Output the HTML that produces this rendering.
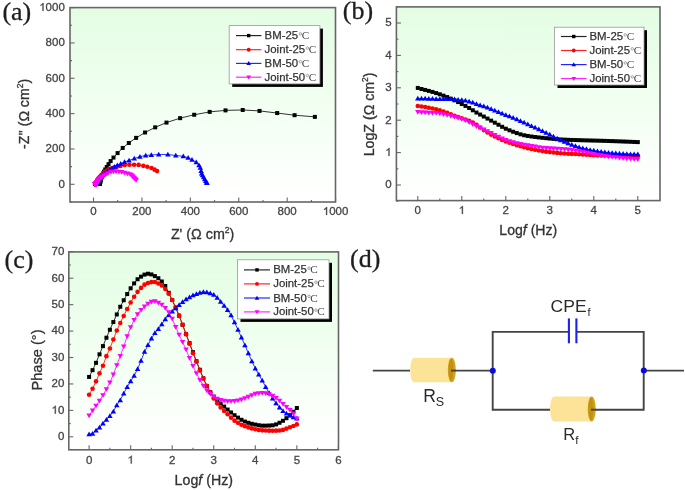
<!DOCTYPE html>
<html><head><meta charset="utf-8"><style>
html,body{margin:0;padding:0;background:#fff;}
svg{display:block;filter:blur(0.6px);}

</style></head><body>
<svg width="685" height="490" viewBox="0 0 685 490" font-family="Liberation Sans, sans-serif" fill="#454545">
<defs>
<linearGradient id="g" x1="0" y1="0" x2="0" y2="1">
<stop offset="0" stop-color="#e3fde3"/><stop offset="0.45" stop-color="#f0fff0"/><stop offset="0.88" stop-color="#fdfffd"/><stop offset="1" stop-color="#ffffff"/>
</linearGradient>
</defs>
<rect width="685" height="490" fill="#fff"/>
<rect x="70" y="7.6" width="265.5" height="194.4" fill="url(#g)"/>
<clipPath id="ca"><rect x="70" y="7.6" width="265.5" height="194.4"/></clipPath>
<g clip-path="url(#ca)">
<polyline points="314.88,116.88 294.59,115.20 277.19,113.05 259.51,110.92 242.72,109.97 225.53,110.39 209.66,111.89 194.20,114.77 180.13,118.16 166.48,122.59 155.22,127.35 145.06,132.48 136.11,137.87 128.82,142.97 122.70,147.95 117.58,153.11 113.50,157.57 110.62,161.09 108.51,164.18 106.76,166.99 105.24,169.46 104.03,171.63 103.03,173.56 102.29,175.31 101.70,176.71 101.26,177.81 100.92,178.73 100.66,179.53 100.41,180.24 100.25,180.79 100.20,181.24 100.17,181.65 100.13,182.01 100.09,182.34 100.04,182.64 99.95,182.87 99.84,183.04 99.73,183.18 99.62,183.30 99.54,183.41 99.48,183.51 99.43,183.60 99.39,183.68 99.36,183.75 99.32,183.82 99.28,183.87 99.25,183.91 99.21,183.94 99.17,183.96 99.14,183.99 99.10,184.00 99.06,184.00 99.01,184.00 98.96,184.00 98.91,183.98 98.86,183.94 98.80,183.89 98.73,183.83 98.67,183.76 98.59,183.68 98.51,183.60" fill="none" stroke="#000000" stroke-width="0.8"/>
<rect x="312.88" y="114.88" width="4.00" height="4.00" fill="#000000"/>
<rect x="292.59" y="113.20" width="4.00" height="4.00" fill="#000000"/>
<rect x="275.19" y="111.05" width="4.00" height="4.00" fill="#000000"/>
<rect x="257.51" y="108.92" width="4.00" height="4.00" fill="#000000"/>
<rect x="240.72" y="107.97" width="4.00" height="4.00" fill="#000000"/>
<rect x="223.53" y="108.39" width="4.00" height="4.00" fill="#000000"/>
<rect x="207.66" y="109.89" width="4.00" height="4.00" fill="#000000"/>
<rect x="192.20" y="112.77" width="4.00" height="4.00" fill="#000000"/>
<rect x="178.13" y="116.16" width="4.00" height="4.00" fill="#000000"/>
<rect x="164.48" y="120.59" width="4.00" height="4.00" fill="#000000"/>
<rect x="153.22" y="125.35" width="4.00" height="4.00" fill="#000000"/>
<rect x="143.06" y="130.48" width="4.00" height="4.00" fill="#000000"/>
<rect x="134.11" y="135.87" width="4.00" height="4.00" fill="#000000"/>
<rect x="126.82" y="140.97" width="4.00" height="4.00" fill="#000000"/>
<rect x="120.70" y="145.95" width="4.00" height="4.00" fill="#000000"/>
<rect x="115.58" y="151.11" width="4.00" height="4.00" fill="#000000"/>
<rect x="111.50" y="155.57" width="4.00" height="4.00" fill="#000000"/>
<rect x="108.62" y="159.09" width="4.00" height="4.00" fill="#000000"/>
<rect x="106.51" y="162.18" width="4.00" height="4.00" fill="#000000"/>
<rect x="104.76" y="164.99" width="4.00" height="4.00" fill="#000000"/>
<rect x="103.24" y="167.46" width="4.00" height="4.00" fill="#000000"/>
<rect x="102.03" y="169.63" width="4.00" height="4.00" fill="#000000"/>
<rect x="101.03" y="171.56" width="4.00" height="4.00" fill="#000000"/>
<rect x="100.29" y="173.31" width="4.00" height="4.00" fill="#000000"/>
<rect x="99.70" y="174.71" width="4.00" height="4.00" fill="#000000"/>
<rect x="99.26" y="175.81" width="4.00" height="4.00" fill="#000000"/>
<rect x="98.92" y="176.73" width="4.00" height="4.00" fill="#000000"/>
<rect x="98.66" y="177.53" width="4.00" height="4.00" fill="#000000"/>
<rect x="98.41" y="178.24" width="4.00" height="4.00" fill="#000000"/>
<rect x="98.25" y="178.79" width="4.00" height="4.00" fill="#000000"/>
<rect x="98.20" y="179.24" width="4.00" height="4.00" fill="#000000"/>
<rect x="98.17" y="179.65" width="4.00" height="4.00" fill="#000000"/>
<rect x="98.13" y="180.01" width="4.00" height="4.00" fill="#000000"/>
<rect x="98.09" y="180.34" width="4.00" height="4.00" fill="#000000"/>
<rect x="98.04" y="180.64" width="4.00" height="4.00" fill="#000000"/>
<rect x="97.95" y="180.87" width="4.00" height="4.00" fill="#000000"/>
<rect x="97.84" y="181.04" width="4.00" height="4.00" fill="#000000"/>
<rect x="97.73" y="181.18" width="4.00" height="4.00" fill="#000000"/>
<rect x="97.62" y="181.30" width="4.00" height="4.00" fill="#000000"/>
<rect x="97.54" y="181.41" width="4.00" height="4.00" fill="#000000"/>
<rect x="97.48" y="181.51" width="4.00" height="4.00" fill="#000000"/>
<rect x="97.43" y="181.60" width="4.00" height="4.00" fill="#000000"/>
<rect x="97.39" y="181.68" width="4.00" height="4.00" fill="#000000"/>
<rect x="97.36" y="181.75" width="4.00" height="4.00" fill="#000000"/>
<rect x="97.32" y="181.82" width="4.00" height="4.00" fill="#000000"/>
<rect x="97.28" y="181.87" width="4.00" height="4.00" fill="#000000"/>
<rect x="97.25" y="181.91" width="4.00" height="4.00" fill="#000000"/>
<rect x="97.21" y="181.94" width="4.00" height="4.00" fill="#000000"/>
<rect x="97.17" y="181.96" width="4.00" height="4.00" fill="#000000"/>
<rect x="97.14" y="181.99" width="4.00" height="4.00" fill="#000000"/>
<rect x="97.10" y="182.00" width="4.00" height="4.00" fill="#000000"/>
<rect x="97.06" y="182.00" width="4.00" height="4.00" fill="#000000"/>
<rect x="97.01" y="182.00" width="4.00" height="4.00" fill="#000000"/>
<rect x="96.96" y="182.00" width="4.00" height="4.00" fill="#000000"/>
<rect x="96.91" y="181.98" width="4.00" height="4.00" fill="#000000"/>
<rect x="96.86" y="181.94" width="4.00" height="4.00" fill="#000000"/>
<rect x="96.80" y="181.89" width="4.00" height="4.00" fill="#000000"/>
<rect x="96.73" y="181.83" width="4.00" height="4.00" fill="#000000"/>
<rect x="96.67" y="181.76" width="4.00" height="4.00" fill="#000000"/>
<rect x="96.59" y="181.68" width="4.00" height="4.00" fill="#000000"/>
<rect x="96.51" y="181.60" width="4.00" height="4.00" fill="#000000"/>
<polyline points="157.04,171.09 154.55,169.66 151.48,168.07 147.29,166.81 143.30,165.87 138.62,164.89 134.06,164.78 129.42,164.69 124.70,165.06 120.39,165.95 116.61,167.00 113.57,167.83 111.07,168.57 108.88,169.42 106.82,170.49 104.80,171.91 102.80,173.62 101.12,175.34 99.76,176.83 98.76,178.02 98.11,178.91 97.62,179.63 97.26,180.24 97.00,180.77 96.82,181.23 96.70,181.62 96.60,181.97 96.52,182.28 96.45,182.56 96.39,182.81 96.33,183.03 96.25,183.21 96.18,183.38 96.11,183.53 96.04,183.65 95.98,183.75 95.93,183.84 95.88,183.91 95.83,183.97 95.78,184.01 95.75,184.05 95.72,184.09 95.70,184.13 95.67,184.15 95.65,184.17 95.62,184.19 95.58,184.21 95.54,184.22 95.51,184.23 95.49,184.23 95.47,184.24 95.46,184.24 95.45,184.24 95.44,184.24 95.43,184.24 95.42,184.24 95.41,184.24 95.41,184.22 95.40,184.21 95.40,184.20 95.39,184.19" fill="none" stroke="#ff0000" stroke-width="0.8"/>
<circle cx="157.04" cy="171.09" r="2.30" fill="#ff0000"/>
<circle cx="154.55" cy="169.66" r="2.30" fill="#ff0000"/>
<circle cx="151.48" cy="168.07" r="2.30" fill="#ff0000"/>
<circle cx="147.29" cy="166.81" r="2.30" fill="#ff0000"/>
<circle cx="143.30" cy="165.87" r="2.30" fill="#ff0000"/>
<circle cx="138.62" cy="164.89" r="2.30" fill="#ff0000"/>
<circle cx="134.06" cy="164.78" r="2.30" fill="#ff0000"/>
<circle cx="129.42" cy="164.69" r="2.30" fill="#ff0000"/>
<circle cx="124.70" cy="165.06" r="2.30" fill="#ff0000"/>
<circle cx="120.39" cy="165.95" r="2.30" fill="#ff0000"/>
<circle cx="116.61" cy="167.00" r="2.30" fill="#ff0000"/>
<circle cx="113.57" cy="167.83" r="2.30" fill="#ff0000"/>
<circle cx="111.07" cy="168.57" r="2.30" fill="#ff0000"/>
<circle cx="108.88" cy="169.42" r="2.30" fill="#ff0000"/>
<circle cx="106.82" cy="170.49" r="2.30" fill="#ff0000"/>
<circle cx="104.80" cy="171.91" r="2.30" fill="#ff0000"/>
<circle cx="102.80" cy="173.62" r="2.30" fill="#ff0000"/>
<circle cx="101.12" cy="175.34" r="2.30" fill="#ff0000"/>
<circle cx="99.76" cy="176.83" r="2.30" fill="#ff0000"/>
<circle cx="98.76" cy="178.02" r="2.30" fill="#ff0000"/>
<circle cx="98.11" cy="178.91" r="2.30" fill="#ff0000"/>
<circle cx="97.62" cy="179.63" r="2.30" fill="#ff0000"/>
<circle cx="97.26" cy="180.24" r="2.30" fill="#ff0000"/>
<circle cx="97.00" cy="180.77" r="2.30" fill="#ff0000"/>
<circle cx="96.82" cy="181.23" r="2.30" fill="#ff0000"/>
<circle cx="96.70" cy="181.62" r="2.30" fill="#ff0000"/>
<circle cx="96.60" cy="181.97" r="2.30" fill="#ff0000"/>
<circle cx="96.52" cy="182.28" r="2.30" fill="#ff0000"/>
<circle cx="96.45" cy="182.56" r="2.30" fill="#ff0000"/>
<circle cx="96.39" cy="182.81" r="2.30" fill="#ff0000"/>
<circle cx="96.33" cy="183.03" r="2.30" fill="#ff0000"/>
<circle cx="96.25" cy="183.21" r="2.30" fill="#ff0000"/>
<circle cx="96.18" cy="183.38" r="2.30" fill="#ff0000"/>
<circle cx="96.11" cy="183.53" r="2.30" fill="#ff0000"/>
<circle cx="96.04" cy="183.65" r="2.30" fill="#ff0000"/>
<circle cx="95.98" cy="183.75" r="2.30" fill="#ff0000"/>
<circle cx="95.93" cy="183.84" r="2.30" fill="#ff0000"/>
<circle cx="95.88" cy="183.91" r="2.30" fill="#ff0000"/>
<circle cx="95.83" cy="183.97" r="2.30" fill="#ff0000"/>
<circle cx="95.78" cy="184.01" r="2.30" fill="#ff0000"/>
<circle cx="95.75" cy="184.05" r="2.30" fill="#ff0000"/>
<circle cx="95.72" cy="184.09" r="2.30" fill="#ff0000"/>
<circle cx="95.70" cy="184.13" r="2.30" fill="#ff0000"/>
<circle cx="95.67" cy="184.15" r="2.30" fill="#ff0000"/>
<circle cx="95.65" cy="184.17" r="2.30" fill="#ff0000"/>
<circle cx="95.62" cy="184.19" r="2.30" fill="#ff0000"/>
<circle cx="95.58" cy="184.21" r="2.30" fill="#ff0000"/>
<circle cx="95.54" cy="184.22" r="2.30" fill="#ff0000"/>
<circle cx="95.51" cy="184.23" r="2.30" fill="#ff0000"/>
<circle cx="95.49" cy="184.23" r="2.30" fill="#ff0000"/>
<circle cx="95.47" cy="184.24" r="2.30" fill="#ff0000"/>
<circle cx="95.46" cy="184.24" r="2.30" fill="#ff0000"/>
<circle cx="95.45" cy="184.24" r="2.30" fill="#ff0000"/>
<circle cx="95.44" cy="184.24" r="2.30" fill="#ff0000"/>
<circle cx="95.43" cy="184.24" r="2.30" fill="#ff0000"/>
<circle cx="95.42" cy="184.24" r="2.30" fill="#ff0000"/>
<circle cx="95.41" cy="184.24" r="2.30" fill="#ff0000"/>
<circle cx="95.41" cy="184.22" r="2.30" fill="#ff0000"/>
<circle cx="95.40" cy="184.21" r="2.30" fill="#ff0000"/>
<circle cx="95.40" cy="184.20" r="2.30" fill="#ff0000"/>
<circle cx="95.39" cy="184.19" r="2.30" fill="#ff0000"/>
<polyline points="206.98,182.93 206.56,182.62 205.77,180.91 204.70,179.35 203.65,177.26 202.52,175.27 201.66,173.43 201.12,171.04 200.27,167.78 198.99,165.29 196.23,162.23 191.99,159.77 188.14,157.78 183.28,156.34 175.77,155.47 167.85,154.52 158.69,154.40 151.34,155.07 145.69,155.41 139.93,156.63 134.29,158.58 129.06,160.45 124.52,162.05 120.70,163.70 117.39,165.32 114.52,166.85 112.00,168.30 109.70,169.70 107.65,171.08 105.86,172.40 104.28,173.66 102.95,174.79 101.81,175.79 100.83,176.72 100.02,177.58 99.32,178.40 98.66,179.17 98.12,179.89 97.67,180.53 97.29,181.05 96.99,181.47 96.76,181.83 96.60,182.17 96.45,182.46 96.33,182.71 96.22,182.93 96.14,183.11 96.07,183.27 96.01,183.41 95.95,183.52 95.89,183.62 95.85,183.72 95.81,183.80 95.77,183.87 95.75,183.93 95.72,183.98 95.70,184.02 95.67,184.06 95.65,184.08 95.64,184.10 95.63,184.11" fill="none" stroke="#0000ff" stroke-width="0.8"/>
<path d="M206.98,180.18L209.73,184.93L204.23,184.93Z" fill="#0000ff"/>
<path d="M206.56,179.87L209.31,184.62L203.81,184.62Z" fill="#0000ff"/>
<path d="M205.77,178.16L208.52,182.91L203.02,182.91Z" fill="#0000ff"/>
<path d="M204.70,176.60L207.45,181.35L201.95,181.35Z" fill="#0000ff"/>
<path d="M203.65,174.51L206.40,179.26L200.90,179.26Z" fill="#0000ff"/>
<path d="M202.52,172.52L205.27,177.27L199.77,177.27Z" fill="#0000ff"/>
<path d="M201.66,170.68L204.41,175.43L198.91,175.43Z" fill="#0000ff"/>
<path d="M201.12,168.29L203.87,173.04L198.37,173.04Z" fill="#0000ff"/>
<path d="M200.27,165.03L203.02,169.78L197.52,169.78Z" fill="#0000ff"/>
<path d="M198.99,162.54L201.74,167.29L196.24,167.29Z" fill="#0000ff"/>
<path d="M196.23,159.48L198.98,164.23L193.48,164.23Z" fill="#0000ff"/>
<path d="M191.99,157.02L194.74,161.77L189.24,161.77Z" fill="#0000ff"/>
<path d="M188.14,155.03L190.89,159.78L185.39,159.78Z" fill="#0000ff"/>
<path d="M183.28,153.59L186.03,158.34L180.53,158.34Z" fill="#0000ff"/>
<path d="M175.77,152.72L178.52,157.47L173.02,157.47Z" fill="#0000ff"/>
<path d="M167.85,151.77L170.60,156.52L165.10,156.52Z" fill="#0000ff"/>
<path d="M158.69,151.65L161.44,156.40L155.94,156.40Z" fill="#0000ff"/>
<path d="M151.34,152.32L154.09,157.07L148.59,157.07Z" fill="#0000ff"/>
<path d="M145.69,152.66L148.44,157.41L142.94,157.41Z" fill="#0000ff"/>
<path d="M139.93,153.88L142.68,158.63L137.18,158.63Z" fill="#0000ff"/>
<path d="M134.29,155.83L137.04,160.58L131.54,160.58Z" fill="#0000ff"/>
<path d="M129.06,157.70L131.81,162.45L126.31,162.45Z" fill="#0000ff"/>
<path d="M124.52,159.30L127.27,164.05L121.77,164.05Z" fill="#0000ff"/>
<path d="M120.70,160.95L123.45,165.70L117.95,165.70Z" fill="#0000ff"/>
<path d="M117.39,162.57L120.14,167.32L114.64,167.32Z" fill="#0000ff"/>
<path d="M114.52,164.10L117.27,168.85L111.77,168.85Z" fill="#0000ff"/>
<path d="M112.00,165.55L114.75,170.30L109.25,170.30Z" fill="#0000ff"/>
<path d="M109.70,166.95L112.45,171.70L106.95,171.70Z" fill="#0000ff"/>
<path d="M107.65,168.33L110.40,173.08L104.90,173.08Z" fill="#0000ff"/>
<path d="M105.86,169.65L108.61,174.40L103.11,174.40Z" fill="#0000ff"/>
<path d="M104.28,170.91L107.03,175.66L101.53,175.66Z" fill="#0000ff"/>
<path d="M102.95,172.04L105.70,176.79L100.20,176.79Z" fill="#0000ff"/>
<path d="M101.81,173.04L104.56,177.79L99.06,177.79Z" fill="#0000ff"/>
<path d="M100.83,173.97L103.58,178.72L98.08,178.72Z" fill="#0000ff"/>
<path d="M100.02,174.83L102.77,179.58L97.27,179.58Z" fill="#0000ff"/>
<path d="M99.32,175.65L102.07,180.40L96.57,180.40Z" fill="#0000ff"/>
<path d="M98.66,176.42L101.41,181.17L95.91,181.17Z" fill="#0000ff"/>
<path d="M98.12,177.14L100.87,181.89L95.37,181.89Z" fill="#0000ff"/>
<path d="M97.67,177.78L100.42,182.53L94.92,182.53Z" fill="#0000ff"/>
<path d="M97.29,178.30L100.04,183.05L94.54,183.05Z" fill="#0000ff"/>
<path d="M96.99,178.72L99.74,183.47L94.24,183.47Z" fill="#0000ff"/>
<path d="M96.76,179.08L99.51,183.83L94.01,183.83Z" fill="#0000ff"/>
<path d="M96.60,179.42L99.35,184.17L93.85,184.17Z" fill="#0000ff"/>
<path d="M96.45,179.71L99.20,184.46L93.70,184.46Z" fill="#0000ff"/>
<path d="M96.33,179.96L99.08,184.71L93.58,184.71Z" fill="#0000ff"/>
<path d="M96.22,180.18L98.97,184.93L93.47,184.93Z" fill="#0000ff"/>
<path d="M96.14,180.36L98.89,185.11L93.39,185.11Z" fill="#0000ff"/>
<path d="M96.07,180.52L98.82,185.27L93.32,185.27Z" fill="#0000ff"/>
<path d="M96.01,180.66L98.76,185.41L93.26,185.41Z" fill="#0000ff"/>
<path d="M95.95,180.77L98.70,185.52L93.20,185.52Z" fill="#0000ff"/>
<path d="M95.89,180.87L98.64,185.62L93.14,185.62Z" fill="#0000ff"/>
<path d="M95.85,180.97L98.60,185.72L93.10,185.72Z" fill="#0000ff"/>
<path d="M95.81,181.05L98.56,185.80L93.06,185.80Z" fill="#0000ff"/>
<path d="M95.77,181.12L98.52,185.87L93.02,185.87Z" fill="#0000ff"/>
<path d="M95.75,181.18L98.50,185.93L93.00,185.93Z" fill="#0000ff"/>
<path d="M95.72,181.23L98.47,185.98L92.97,185.98Z" fill="#0000ff"/>
<path d="M95.70,181.27L98.45,186.02L92.95,186.02Z" fill="#0000ff"/>
<path d="M95.67,181.31L98.42,186.06L92.92,186.06Z" fill="#0000ff"/>
<path d="M95.65,181.33L98.40,186.08L92.90,186.08Z" fill="#0000ff"/>
<path d="M95.64,181.35L98.39,186.10L92.89,186.10Z" fill="#0000ff"/>
<path d="M95.63,181.36L98.38,186.11L92.88,186.11Z" fill="#0000ff"/>
<polyline points="136.13,179.89 135.14,178.99 134.20,178.12 133.33,177.24 132.55,176.26 131.61,175.24 130.06,174.30 127.46,173.49 124.51,172.71 121.73,172.12 118.90,171.73 116.00,171.46 113.41,171.48 110.85,171.98 107.92,173.26 105.58,174.51 103.80,175.57 102.46,176.41 101.36,177.19 100.42,178.01 99.63,178.83 98.97,179.55 98.45,180.18 98.02,180.75 97.75,181.24 97.58,181.66 97.44,182.00 97.33,182.28 97.25,182.52 97.19,182.75 97.13,182.96 97.05,183.15 96.96,183.31 96.87,183.44 96.79,183.54 96.73,183.62 96.68,183.67 96.65,183.71 96.61,183.74 96.56,183.76 96.50,183.78 96.42,183.79 96.32,183.80 96.21,183.82 96.10,183.82 95.98,183.83 95.84,183.84 95.71,183.85 95.58,183.86 95.48,183.87 95.41,183.89 95.34,183.90 95.28,183.93 95.22,183.95 95.17,183.98 95.13,184.01 95.09,184.04 95.06,184.07 95.03,184.10 95.01,184.13 94.99,184.17" fill="none" stroke="#ff00ff" stroke-width="0.8"/>
<path d="M136.13,182.64L138.88,177.89L133.38,177.89Z" fill="#ff00ff"/>
<path d="M135.14,181.74L137.89,176.99L132.39,176.99Z" fill="#ff00ff"/>
<path d="M134.20,180.87L136.95,176.12L131.45,176.12Z" fill="#ff00ff"/>
<path d="M133.33,179.99L136.08,175.24L130.58,175.24Z" fill="#ff00ff"/>
<path d="M132.55,179.01L135.30,174.26L129.80,174.26Z" fill="#ff00ff"/>
<path d="M131.61,177.99L134.36,173.24L128.86,173.24Z" fill="#ff00ff"/>
<path d="M130.06,177.05L132.81,172.30L127.31,172.30Z" fill="#ff00ff"/>
<path d="M127.46,176.24L130.21,171.49L124.71,171.49Z" fill="#ff00ff"/>
<path d="M124.51,175.46L127.26,170.71L121.76,170.71Z" fill="#ff00ff"/>
<path d="M121.73,174.87L124.48,170.12L118.98,170.12Z" fill="#ff00ff"/>
<path d="M118.90,174.48L121.65,169.73L116.15,169.73Z" fill="#ff00ff"/>
<path d="M116.00,174.21L118.75,169.46L113.25,169.46Z" fill="#ff00ff"/>
<path d="M113.41,174.23L116.16,169.48L110.66,169.48Z" fill="#ff00ff"/>
<path d="M110.85,174.73L113.60,169.98L108.10,169.98Z" fill="#ff00ff"/>
<path d="M107.92,176.01L110.67,171.26L105.17,171.26Z" fill="#ff00ff"/>
<path d="M105.58,177.26L108.33,172.51L102.83,172.51Z" fill="#ff00ff"/>
<path d="M103.80,178.32L106.55,173.57L101.05,173.57Z" fill="#ff00ff"/>
<path d="M102.46,179.16L105.21,174.41L99.71,174.41Z" fill="#ff00ff"/>
<path d="M101.36,179.94L104.11,175.19L98.61,175.19Z" fill="#ff00ff"/>
<path d="M100.42,180.76L103.17,176.01L97.67,176.01Z" fill="#ff00ff"/>
<path d="M99.63,181.58L102.38,176.83L96.88,176.83Z" fill="#ff00ff"/>
<path d="M98.97,182.30L101.72,177.55L96.22,177.55Z" fill="#ff00ff"/>
<path d="M98.45,182.93L101.20,178.18L95.70,178.18Z" fill="#ff00ff"/>
<path d="M98.02,183.50L100.77,178.75L95.27,178.75Z" fill="#ff00ff"/>
<path d="M97.75,183.99L100.50,179.24L95.00,179.24Z" fill="#ff00ff"/>
<path d="M97.58,184.41L100.33,179.66L94.83,179.66Z" fill="#ff00ff"/>
<path d="M97.44,184.75L100.19,180.00L94.69,180.00Z" fill="#ff00ff"/>
<path d="M97.33,185.03L100.08,180.28L94.58,180.28Z" fill="#ff00ff"/>
<path d="M97.25,185.27L100.00,180.52L94.50,180.52Z" fill="#ff00ff"/>
<path d="M97.19,185.50L99.94,180.75L94.44,180.75Z" fill="#ff00ff"/>
<path d="M97.13,185.71L99.88,180.96L94.38,180.96Z" fill="#ff00ff"/>
<path d="M97.05,185.90L99.80,181.15L94.30,181.15Z" fill="#ff00ff"/>
<path d="M96.96,186.06L99.71,181.31L94.21,181.31Z" fill="#ff00ff"/>
<path d="M96.87,186.19L99.62,181.44L94.12,181.44Z" fill="#ff00ff"/>
<path d="M96.79,186.29L99.54,181.54L94.04,181.54Z" fill="#ff00ff"/>
<path d="M96.73,186.37L99.48,181.62L93.98,181.62Z" fill="#ff00ff"/>
<path d="M96.68,186.42L99.43,181.67L93.93,181.67Z" fill="#ff00ff"/>
<path d="M96.65,186.46L99.40,181.71L93.90,181.71Z" fill="#ff00ff"/>
<path d="M96.61,186.49L99.36,181.74L93.86,181.74Z" fill="#ff00ff"/>
<path d="M96.56,186.51L99.31,181.76L93.81,181.76Z" fill="#ff00ff"/>
<path d="M96.50,186.53L99.25,181.78L93.75,181.78Z" fill="#ff00ff"/>
<path d="M96.42,186.54L99.17,181.79L93.67,181.79Z" fill="#ff00ff"/>
<path d="M96.32,186.55L99.07,181.80L93.57,181.80Z" fill="#ff00ff"/>
<path d="M96.21,186.57L98.96,181.82L93.46,181.82Z" fill="#ff00ff"/>
<path d="M96.10,186.57L98.85,181.82L93.35,181.82Z" fill="#ff00ff"/>
<path d="M95.98,186.58L98.73,181.83L93.23,181.83Z" fill="#ff00ff"/>
<path d="M95.84,186.59L98.59,181.84L93.09,181.84Z" fill="#ff00ff"/>
<path d="M95.71,186.60L98.46,181.85L92.96,181.85Z" fill="#ff00ff"/>
<path d="M95.58,186.61L98.33,181.86L92.83,181.86Z" fill="#ff00ff"/>
<path d="M95.48,186.62L98.23,181.87L92.73,181.87Z" fill="#ff00ff"/>
<path d="M95.41,186.64L98.16,181.89L92.66,181.89Z" fill="#ff00ff"/>
<path d="M95.34,186.65L98.09,181.90L92.59,181.90Z" fill="#ff00ff"/>
<path d="M95.28,186.68L98.03,181.93L92.53,181.93Z" fill="#ff00ff"/>
<path d="M95.22,186.70L97.97,181.95L92.47,181.95Z" fill="#ff00ff"/>
<path d="M95.17,186.73L97.92,181.98L92.42,181.98Z" fill="#ff00ff"/>
<path d="M95.13,186.76L97.88,182.01L92.38,182.01Z" fill="#ff00ff"/>
<path d="M95.09,186.79L97.84,182.04L92.34,182.04Z" fill="#ff00ff"/>
<path d="M95.06,186.82L97.81,182.07L92.31,182.07Z" fill="#ff00ff"/>
<path d="M95.03,186.85L97.78,182.10L92.28,182.10Z" fill="#ff00ff"/>
<path d="M95.01,186.88L97.76,182.13L92.26,182.13Z" fill="#ff00ff"/>
<path d="M94.99,186.92L97.74,182.17L92.24,182.17Z" fill="#ff00ff"/>
</g>
<rect x="70" y="7.6" width="265.5" height="194.4" fill="none" stroke="#666666" stroke-width="1.6"/>
<line x1="93.50" y1="202" x2="93.50" y2="197.5" stroke="#666666" stroke-width="1.1"/>
<line x1="141.92" y1="202" x2="141.92" y2="197.5" stroke="#666666" stroke-width="1.1"/>
<line x1="190.34" y1="202" x2="190.34" y2="197.5" stroke="#666666" stroke-width="1.1"/>
<line x1="238.76" y1="202" x2="238.76" y2="197.5" stroke="#666666" stroke-width="1.1"/>
<line x1="287.18" y1="202" x2="287.18" y2="197.5" stroke="#666666" stroke-width="1.1"/>
<line x1="335.60" y1="202" x2="335.60" y2="197.5" stroke="#666666" stroke-width="1.1"/>
<line x1="117.71" y1="202" x2="117.71" y2="200" stroke="#666666" stroke-width="1.1"/>
<line x1="166.13" y1="202" x2="166.13" y2="200" stroke="#666666" stroke-width="1.1"/>
<line x1="214.55" y1="202" x2="214.55" y2="200" stroke="#666666" stroke-width="1.1"/>
<line x1="262.97" y1="202" x2="262.97" y2="200" stroke="#666666" stroke-width="1.1"/>
<line x1="311.39" y1="202" x2="311.39" y2="200" stroke="#666666" stroke-width="1.1"/>
<line x1="70" y1="184.30" x2="74.5" y2="184.30" stroke="#666666" stroke-width="1.1"/>
<line x1="70" y1="148.96" x2="74.5" y2="148.96" stroke="#666666" stroke-width="1.1"/>
<line x1="70" y1="113.62" x2="74.5" y2="113.62" stroke="#666666" stroke-width="1.1"/>
<line x1="70" y1="78.28" x2="74.5" y2="78.28" stroke="#666666" stroke-width="1.1"/>
<line x1="70" y1="42.94" x2="74.5" y2="42.94" stroke="#666666" stroke-width="1.1"/>
<line x1="70" y1="7.60" x2="74.5" y2="7.60" stroke="#666666" stroke-width="1.1"/>
<line x1="70" y1="201.97" x2="72" y2="201.97" stroke="#666666" stroke-width="1.1"/>
<line x1="70" y1="166.63" x2="72" y2="166.63" stroke="#666666" stroke-width="1.1"/>
<line x1="70" y1="131.29" x2="72" y2="131.29" stroke="#666666" stroke-width="1.1"/>
<line x1="70" y1="95.95" x2="72" y2="95.95" stroke="#666666" stroke-width="1.1"/>
<line x1="70" y1="60.61" x2="72" y2="60.61" stroke="#666666" stroke-width="1.1"/>
<line x1="70" y1="25.27" x2="72" y2="25.27" stroke="#666666" stroke-width="1.1"/>
<text x="90.30" y="215.00" font-size="11.5" stroke="#454545" stroke-width="0.3">0</text>
<text x="132.33" y="215.00" font-size="11.5" stroke="#454545" stroke-width="0.3">200</text>
<text x="180.75" y="215.00" font-size="11.5" stroke="#454545" stroke-width="0.3">400</text>
<text x="229.17" y="215.00" font-size="11.5" stroke="#454545" stroke-width="0.3">600</text>
<text x="277.59" y="215.00" font-size="11.5" stroke="#454545" stroke-width="0.3">800</text>
<path d="M327.09,215.00H326.08V208.82Q325.72,209.16 325.12,209.47Q324.53,209.78 324.06,209.95V209.05Q324.90,208.65 325.53,208.12Q326.16,207.59 326.42,207.09H327.09Z" stroke="#454545" stroke-width="0.3"/><text x="329.20" y="215.00" font-size="11.5" stroke="#454545" stroke-width="0.3">000</text>
<text x="58.40" y="187.60" font-size="11.5" stroke="#454545" stroke-width="0.3">0</text>
<text x="45.61" y="152.26" font-size="11.5" stroke="#454545" stroke-width="0.3">200</text>
<text x="45.61" y="116.92" font-size="11.5" stroke="#454545" stroke-width="0.3">400</text>
<text x="45.61" y="81.58" font-size="11.5" stroke="#454545" stroke-width="0.3">600</text>
<text x="45.61" y="46.24" font-size="11.5" stroke="#454545" stroke-width="0.3">800</text>
<path d="M43.50,10.90H42.49V4.72Q42.13,5.06 41.53,5.37Q40.94,5.68 40.47,5.85V4.95Q41.31,4.55 41.94,4.02Q42.57,3.49 42.83,2.99H43.50Z" stroke="#454545" stroke-width="0.3"/><text x="45.61" y="10.90" font-size="11.5" stroke="#454545" stroke-width="0.3">000</text>
<rect x="232.2" y="28.6" width="90.69999999999999" height="58.300000000000004" fill="#000"/>
<rect x="229.2" y="25.6" width="90.69999999999999" height="58.300000000000004" fill="#fff" stroke="#999" stroke-width="0.8"/>
<line x1="236" y1="35.6" x2="261.4" y2="35.6" stroke="#000000" stroke-width="1.2" opacity="0.85"/>
<rect x="247.00" y="33.90" width="3.40" height="3.40" fill="#000000"/>
<text x="264.6" y="39.10" font-size="11.4" fill="#333" stroke="#333" stroke-width="0.25">BM-25</text>
<circle cx="300.37" cy="33.90" r="1.25" fill="none" stroke="#999" stroke-width="0.9"/>
<text x="301.77" y="39.10" font-family="Liberation Serif, serif" font-size="11.17" fill="#444">C</text>
<line x1="236" y1="49.7" x2="261.4" y2="49.7" stroke="#ff0000" stroke-width="1.2" opacity="0.85"/>
<circle cx="248.70" cy="49.70" r="1.95" fill="#ff0000"/>
<text x="264.6" y="53.20" font-size="11.4" fill="#333" stroke="#333" stroke-width="0.25">Joint-25</text>
<circle cx="307.35" cy="48.00" r="1.25" fill="none" stroke="#999" stroke-width="0.9"/>
<text x="308.75" y="53.20" font-family="Liberation Serif, serif" font-size="11.17" fill="#444">C</text>
<line x1="236" y1="63.4" x2="261.4" y2="63.4" stroke="#0000ff" stroke-width="1.2" opacity="0.85"/>
<path d="M248.70,61.06L251.04,65.10L246.36,65.10Z" fill="#0000ff"/>
<text x="264.6" y="66.90" font-size="11.4" fill="#333" stroke="#333" stroke-width="0.25">BM-50</text>
<circle cx="300.37" cy="61.70" r="1.25" fill="none" stroke="#999" stroke-width="0.9"/>
<text x="301.77" y="66.90" font-family="Liberation Serif, serif" font-size="11.17" fill="#444">C</text>
<line x1="236" y1="77.2" x2="261.4" y2="77.2" stroke="#ff00ff" stroke-width="1.2" opacity="0.85"/>
<path d="M248.70,79.54L251.04,75.50L246.36,75.50Z" fill="#ff00ff"/>
<text x="264.6" y="80.70" font-size="11.4" fill="#333" stroke="#333" stroke-width="0.25">Joint-50</text>
<circle cx="307.35" cy="75.50" r="1.25" fill="none" stroke="#999" stroke-width="0.9"/>
<text x="308.75" y="80.70" font-family="Liberation Serif, serif" font-size="11.17" fill="#444">C</text>
<text x="2.4" y="20.4" font-family="Liberation Serif, serif" font-size="26" fill="#1e1e1e" stroke="#1e1e1e" stroke-width="0.3">(a)</text>
<text x="202.6" y="239.3" text-anchor="middle" font-size="14.3" fill="#333" stroke="#333" stroke-width="0.3">Z' (&#937; cm<tspan font-size="8.5" dy="-6.5">2</tspan><tspan dy="6.5">)</tspan></text>
<text transform="translate(29.4,113.9) rotate(-90)" text-anchor="middle" font-size="14.1" fill="#333" stroke="#333" stroke-width="0.3">-Z'' (&#937; cm<tspan font-size="8.5" dy="-6.5">2</tspan><tspan dy="6.5">)</tspan></text>
<rect x="396.4" y="6.9" width="263.6" height="193.7" fill="url(#g)"/>
<polyline points="417.80,87.93 421.47,89.00 425.13,89.93 428.80,90.91 432.47,91.92 436.13,93.08 439.80,94.28 443.47,95.65 447.13,97.06 450.80,98.69 454.47,100.31 458.13,102.08 461.80,104.00 465.47,105.93 469.13,107.97 472.80,110.26 476.47,112.54 480.13,114.57 483.80,116.55 487.47,118.57 491.13,120.63 494.80,122.68 498.47,124.74 502.13,126.82 505.80,128.69 509.47,130.31 513.13,131.77 516.80,133.08 520.47,134.32 524.13,135.29 527.80,135.95 531.47,136.52 535.13,137.00 538.80,137.43 542.47,137.82 546.13,138.19 549.80,138.55 553.47,138.89 557.13,139.20 560.80,139.46 564.47,139.65 568.13,139.81 571.80,139.94 575.47,140.05 579.13,140.16 582.80,140.28 586.47,140.38 590.13,140.48 593.80,140.57 597.47,140.66 601.13,140.76 604.80,140.87 608.47,140.98 612.13,141.10 615.80,141.23 619.47,141.36 623.13,141.50 626.80,141.65 630.47,141.79 634.13,141.95 637.80,142.10" fill="none" stroke="#000000" stroke-width="0.8"/>
<rect x="415.80" y="85.93" width="4.00" height="4.00" fill="#000000"/>
<rect x="419.47" y="87.00" width="4.00" height="4.00" fill="#000000"/>
<rect x="423.13" y="87.93" width="4.00" height="4.00" fill="#000000"/>
<rect x="426.80" y="88.91" width="4.00" height="4.00" fill="#000000"/>
<rect x="430.47" y="89.92" width="4.00" height="4.00" fill="#000000"/>
<rect x="434.13" y="91.08" width="4.00" height="4.00" fill="#000000"/>
<rect x="437.80" y="92.28" width="4.00" height="4.00" fill="#000000"/>
<rect x="441.47" y="93.65" width="4.00" height="4.00" fill="#000000"/>
<rect x="445.13" y="95.06" width="4.00" height="4.00" fill="#000000"/>
<rect x="448.80" y="96.69" width="4.00" height="4.00" fill="#000000"/>
<rect x="452.47" y="98.31" width="4.00" height="4.00" fill="#000000"/>
<rect x="456.13" y="100.08" width="4.00" height="4.00" fill="#000000"/>
<rect x="459.80" y="102.00" width="4.00" height="4.00" fill="#000000"/>
<rect x="463.47" y="103.93" width="4.00" height="4.00" fill="#000000"/>
<rect x="467.13" y="105.97" width="4.00" height="4.00" fill="#000000"/>
<rect x="470.80" y="108.26" width="4.00" height="4.00" fill="#000000"/>
<rect x="474.47" y="110.54" width="4.00" height="4.00" fill="#000000"/>
<rect x="478.13" y="112.57" width="4.00" height="4.00" fill="#000000"/>
<rect x="481.80" y="114.55" width="4.00" height="4.00" fill="#000000"/>
<rect x="485.47" y="116.57" width="4.00" height="4.00" fill="#000000"/>
<rect x="489.13" y="118.63" width="4.00" height="4.00" fill="#000000"/>
<rect x="492.80" y="120.68" width="4.00" height="4.00" fill="#000000"/>
<rect x="496.47" y="122.74" width="4.00" height="4.00" fill="#000000"/>
<rect x="500.13" y="124.82" width="4.00" height="4.00" fill="#000000"/>
<rect x="503.80" y="126.69" width="4.00" height="4.00" fill="#000000"/>
<rect x="507.47" y="128.31" width="4.00" height="4.00" fill="#000000"/>
<rect x="511.13" y="129.77" width="4.00" height="4.00" fill="#000000"/>
<rect x="514.80" y="131.08" width="4.00" height="4.00" fill="#000000"/>
<rect x="518.47" y="132.32" width="4.00" height="4.00" fill="#000000"/>
<rect x="522.13" y="133.29" width="4.00" height="4.00" fill="#000000"/>
<rect x="525.80" y="133.95" width="4.00" height="4.00" fill="#000000"/>
<rect x="529.47" y="134.52" width="4.00" height="4.00" fill="#000000"/>
<rect x="533.13" y="135.00" width="4.00" height="4.00" fill="#000000"/>
<rect x="536.80" y="135.43" width="4.00" height="4.00" fill="#000000"/>
<rect x="540.47" y="135.82" width="4.00" height="4.00" fill="#000000"/>
<rect x="544.13" y="136.19" width="4.00" height="4.00" fill="#000000"/>
<rect x="547.80" y="136.55" width="4.00" height="4.00" fill="#000000"/>
<rect x="551.47" y="136.89" width="4.00" height="4.00" fill="#000000"/>
<rect x="555.13" y="137.20" width="4.00" height="4.00" fill="#000000"/>
<rect x="558.80" y="137.46" width="4.00" height="4.00" fill="#000000"/>
<rect x="562.47" y="137.65" width="4.00" height="4.00" fill="#000000"/>
<rect x="566.13" y="137.81" width="4.00" height="4.00" fill="#000000"/>
<rect x="569.80" y="137.94" width="4.00" height="4.00" fill="#000000"/>
<rect x="573.47" y="138.05" width="4.00" height="4.00" fill="#000000"/>
<rect x="577.13" y="138.16" width="4.00" height="4.00" fill="#000000"/>
<rect x="580.80" y="138.28" width="4.00" height="4.00" fill="#000000"/>
<rect x="584.47" y="138.38" width="4.00" height="4.00" fill="#000000"/>
<rect x="588.13" y="138.48" width="4.00" height="4.00" fill="#000000"/>
<rect x="591.80" y="138.57" width="4.00" height="4.00" fill="#000000"/>
<rect x="595.47" y="138.66" width="4.00" height="4.00" fill="#000000"/>
<rect x="599.13" y="138.76" width="4.00" height="4.00" fill="#000000"/>
<rect x="602.80" y="138.87" width="4.00" height="4.00" fill="#000000"/>
<rect x="606.47" y="138.98" width="4.00" height="4.00" fill="#000000"/>
<rect x="610.13" y="139.10" width="4.00" height="4.00" fill="#000000"/>
<rect x="613.80" y="139.23" width="4.00" height="4.00" fill="#000000"/>
<rect x="617.47" y="139.36" width="4.00" height="4.00" fill="#000000"/>
<rect x="621.13" y="139.50" width="4.00" height="4.00" fill="#000000"/>
<rect x="624.80" y="139.65" width="4.00" height="4.00" fill="#000000"/>
<rect x="628.47" y="139.79" width="4.00" height="4.00" fill="#000000"/>
<rect x="632.13" y="139.95" width="4.00" height="4.00" fill="#000000"/>
<rect x="635.80" y="140.10" width="4.00" height="4.00" fill="#000000"/>
<polyline points="417.80,106.07 421.47,106.46 425.13,106.95 428.80,107.69 432.47,108.44 436.13,109.34 439.80,110.40 443.47,111.52 447.13,112.84 450.80,114.30 454.47,115.80 458.13,117.09 461.80,118.25 465.47,119.45 469.13,120.84 472.80,122.62 476.47,124.90 480.13,127.46 483.80,130.08 487.47,132.53 491.13,134.60 494.80,136.48 498.47,138.25 502.13,139.90 505.80,141.41 509.47,142.78 513.13,144.04 516.80,145.21 520.47,146.29 524.13,147.27 527.80,148.16 531.47,149.00 535.13,149.78 538.80,150.49 542.47,151.11 546.13,151.64 549.80,152.10 553.47,152.52 557.13,152.89 560.80,153.21 564.47,153.48 568.13,153.69 571.80,153.88 575.47,154.05 579.13,154.24 582.80,154.46 586.47,154.71 590.13,154.96 593.80,155.19 597.47,155.35 601.13,155.45 604.80,155.54 608.47,155.63 612.13,155.71 615.80,155.78 619.47,155.85 623.13,155.90 626.80,155.94 630.47,155.98 634.13,156.00 637.80,156.00" fill="none" stroke="#ff0000" stroke-width="0.8"/>
<circle cx="417.80" cy="106.07" r="2.30" fill="#ff0000"/>
<circle cx="421.47" cy="106.46" r="2.30" fill="#ff0000"/>
<circle cx="425.13" cy="106.95" r="2.30" fill="#ff0000"/>
<circle cx="428.80" cy="107.69" r="2.30" fill="#ff0000"/>
<circle cx="432.47" cy="108.44" r="2.30" fill="#ff0000"/>
<circle cx="436.13" cy="109.34" r="2.30" fill="#ff0000"/>
<circle cx="439.80" cy="110.40" r="2.30" fill="#ff0000"/>
<circle cx="443.47" cy="111.52" r="2.30" fill="#ff0000"/>
<circle cx="447.13" cy="112.84" r="2.30" fill="#ff0000"/>
<circle cx="450.80" cy="114.30" r="2.30" fill="#ff0000"/>
<circle cx="454.47" cy="115.80" r="2.30" fill="#ff0000"/>
<circle cx="458.13" cy="117.09" r="2.30" fill="#ff0000"/>
<circle cx="461.80" cy="118.25" r="2.30" fill="#ff0000"/>
<circle cx="465.47" cy="119.45" r="2.30" fill="#ff0000"/>
<circle cx="469.13" cy="120.84" r="2.30" fill="#ff0000"/>
<circle cx="472.80" cy="122.62" r="2.30" fill="#ff0000"/>
<circle cx="476.47" cy="124.90" r="2.30" fill="#ff0000"/>
<circle cx="480.13" cy="127.46" r="2.30" fill="#ff0000"/>
<circle cx="483.80" cy="130.08" r="2.30" fill="#ff0000"/>
<circle cx="487.47" cy="132.53" r="2.30" fill="#ff0000"/>
<circle cx="491.13" cy="134.60" r="2.30" fill="#ff0000"/>
<circle cx="494.80" cy="136.48" r="2.30" fill="#ff0000"/>
<circle cx="498.47" cy="138.25" r="2.30" fill="#ff0000"/>
<circle cx="502.13" cy="139.90" r="2.30" fill="#ff0000"/>
<circle cx="505.80" cy="141.41" r="2.30" fill="#ff0000"/>
<circle cx="509.47" cy="142.78" r="2.30" fill="#ff0000"/>
<circle cx="513.13" cy="144.04" r="2.30" fill="#ff0000"/>
<circle cx="516.80" cy="145.21" r="2.30" fill="#ff0000"/>
<circle cx="520.47" cy="146.29" r="2.30" fill="#ff0000"/>
<circle cx="524.13" cy="147.27" r="2.30" fill="#ff0000"/>
<circle cx="527.80" cy="148.16" r="2.30" fill="#ff0000"/>
<circle cx="531.47" cy="149.00" r="2.30" fill="#ff0000"/>
<circle cx="535.13" cy="149.78" r="2.30" fill="#ff0000"/>
<circle cx="538.80" cy="150.49" r="2.30" fill="#ff0000"/>
<circle cx="542.47" cy="151.11" r="2.30" fill="#ff0000"/>
<circle cx="546.13" cy="151.64" r="2.30" fill="#ff0000"/>
<circle cx="549.80" cy="152.10" r="2.30" fill="#ff0000"/>
<circle cx="553.47" cy="152.52" r="2.30" fill="#ff0000"/>
<circle cx="557.13" cy="152.89" r="2.30" fill="#ff0000"/>
<circle cx="560.80" cy="153.21" r="2.30" fill="#ff0000"/>
<circle cx="564.47" cy="153.48" r="2.30" fill="#ff0000"/>
<circle cx="568.13" cy="153.69" r="2.30" fill="#ff0000"/>
<circle cx="571.80" cy="153.88" r="2.30" fill="#ff0000"/>
<circle cx="575.47" cy="154.05" r="2.30" fill="#ff0000"/>
<circle cx="579.13" cy="154.24" r="2.30" fill="#ff0000"/>
<circle cx="582.80" cy="154.46" r="2.30" fill="#ff0000"/>
<circle cx="586.47" cy="154.71" r="2.30" fill="#ff0000"/>
<circle cx="590.13" cy="154.96" r="2.30" fill="#ff0000"/>
<circle cx="593.80" cy="155.19" r="2.30" fill="#ff0000"/>
<circle cx="597.47" cy="155.35" r="2.30" fill="#ff0000"/>
<circle cx="601.13" cy="155.45" r="2.30" fill="#ff0000"/>
<circle cx="604.80" cy="155.54" r="2.30" fill="#ff0000"/>
<circle cx="608.47" cy="155.63" r="2.30" fill="#ff0000"/>
<circle cx="612.13" cy="155.71" r="2.30" fill="#ff0000"/>
<circle cx="615.80" cy="155.78" r="2.30" fill="#ff0000"/>
<circle cx="619.47" cy="155.85" r="2.30" fill="#ff0000"/>
<circle cx="623.13" cy="155.90" r="2.30" fill="#ff0000"/>
<circle cx="626.80" cy="155.94" r="2.30" fill="#ff0000"/>
<circle cx="630.47" cy="155.98" r="2.30" fill="#ff0000"/>
<circle cx="634.13" cy="156.00" r="2.30" fill="#ff0000"/>
<circle cx="637.80" cy="156.00" r="2.30" fill="#ff0000"/>
<polyline points="417.80,98.46 421.47,98.51 425.13,98.60 428.80,98.72 432.47,98.83 436.13,98.94 439.80,99.01 443.47,99.01 447.13,99.01 450.80,99.07 454.47,99.28 458.13,99.68 461.80,100.05 465.47,100.58 469.13,101.53 472.80,102.56 476.47,103.92 480.13,105.19 483.80,106.20 487.47,107.44 491.13,108.94 494.80,110.48 498.47,111.96 502.13,113.42 505.80,114.89 509.47,116.35 513.13,117.81 516.80,119.34 520.47,120.93 524.13,122.57 527.80,124.27 531.47,125.94 535.13,127.60 538.80,129.26 542.47,130.95 546.13,132.69 549.80,134.56 553.47,136.49 557.13,138.40 560.80,140.19 564.47,141.80 568.13,143.28 571.80,144.66 575.47,145.95 579.13,147.15 582.80,148.24 586.47,149.12 590.13,149.91 593.80,150.61 597.47,151.23 601.13,151.77 604.80,152.26 608.47,152.69 612.13,153.03 615.80,153.29 619.47,153.54 623.13,153.77 626.80,153.97 630.47,154.13 634.13,154.24 637.80,154.28" fill="none" stroke="#0000ff" stroke-width="0.8"/>
<path d="M417.80,95.71L420.55,100.46L415.05,100.46Z" fill="#0000ff"/>
<path d="M421.47,95.76L424.22,100.51L418.72,100.51Z" fill="#0000ff"/>
<path d="M425.13,95.85L427.88,100.60L422.38,100.60Z" fill="#0000ff"/>
<path d="M428.80,95.97L431.55,100.72L426.05,100.72Z" fill="#0000ff"/>
<path d="M432.47,96.08L435.22,100.83L429.72,100.83Z" fill="#0000ff"/>
<path d="M436.13,96.19L438.88,100.94L433.38,100.94Z" fill="#0000ff"/>
<path d="M439.80,96.26L442.55,101.01L437.05,101.01Z" fill="#0000ff"/>
<path d="M443.47,96.26L446.22,101.01L440.72,101.01Z" fill="#0000ff"/>
<path d="M447.13,96.26L449.88,101.01L444.38,101.01Z" fill="#0000ff"/>
<path d="M450.80,96.32L453.55,101.07L448.05,101.07Z" fill="#0000ff"/>
<path d="M454.47,96.53L457.22,101.28L451.72,101.28Z" fill="#0000ff"/>
<path d="M458.13,96.93L460.88,101.68L455.38,101.68Z" fill="#0000ff"/>
<path d="M461.80,97.30L464.55,102.05L459.05,102.05Z" fill="#0000ff"/>
<path d="M465.47,97.83L468.22,102.58L462.72,102.58Z" fill="#0000ff"/>
<path d="M469.13,98.78L471.88,103.53L466.38,103.53Z" fill="#0000ff"/>
<path d="M472.80,99.81L475.55,104.56L470.05,104.56Z" fill="#0000ff"/>
<path d="M476.47,101.17L479.22,105.92L473.72,105.92Z" fill="#0000ff"/>
<path d="M480.13,102.44L482.88,107.19L477.38,107.19Z" fill="#0000ff"/>
<path d="M483.80,103.45L486.55,108.20L481.05,108.20Z" fill="#0000ff"/>
<path d="M487.47,104.69L490.22,109.44L484.72,109.44Z" fill="#0000ff"/>
<path d="M491.13,106.19L493.88,110.94L488.38,110.94Z" fill="#0000ff"/>
<path d="M494.80,107.73L497.55,112.48L492.05,112.48Z" fill="#0000ff"/>
<path d="M498.47,109.21L501.22,113.96L495.72,113.96Z" fill="#0000ff"/>
<path d="M502.13,110.67L504.88,115.42L499.38,115.42Z" fill="#0000ff"/>
<path d="M505.80,112.14L508.55,116.89L503.05,116.89Z" fill="#0000ff"/>
<path d="M509.47,113.60L512.22,118.35L506.72,118.35Z" fill="#0000ff"/>
<path d="M513.13,115.06L515.88,119.81L510.38,119.81Z" fill="#0000ff"/>
<path d="M516.80,116.59L519.55,121.34L514.05,121.34Z" fill="#0000ff"/>
<path d="M520.47,118.18L523.22,122.93L517.72,122.93Z" fill="#0000ff"/>
<path d="M524.13,119.82L526.88,124.57L521.38,124.57Z" fill="#0000ff"/>
<path d="M527.80,121.52L530.55,126.27L525.05,126.27Z" fill="#0000ff"/>
<path d="M531.47,123.19L534.22,127.94L528.72,127.94Z" fill="#0000ff"/>
<path d="M535.13,124.85L537.88,129.60L532.38,129.60Z" fill="#0000ff"/>
<path d="M538.80,126.51L541.55,131.26L536.05,131.26Z" fill="#0000ff"/>
<path d="M542.47,128.20L545.22,132.95L539.72,132.95Z" fill="#0000ff"/>
<path d="M546.13,129.94L548.88,134.69L543.38,134.69Z" fill="#0000ff"/>
<path d="M549.80,131.81L552.55,136.56L547.05,136.56Z" fill="#0000ff"/>
<path d="M553.47,133.74L556.22,138.49L550.72,138.49Z" fill="#0000ff"/>
<path d="M557.13,135.65L559.88,140.40L554.38,140.40Z" fill="#0000ff"/>
<path d="M560.80,137.44L563.55,142.19L558.05,142.19Z" fill="#0000ff"/>
<path d="M564.47,139.05L567.22,143.80L561.72,143.80Z" fill="#0000ff"/>
<path d="M568.13,140.53L570.88,145.28L565.38,145.28Z" fill="#0000ff"/>
<path d="M571.80,141.91L574.55,146.66L569.05,146.66Z" fill="#0000ff"/>
<path d="M575.47,143.20L578.22,147.95L572.72,147.95Z" fill="#0000ff"/>
<path d="M579.13,144.40L581.88,149.15L576.38,149.15Z" fill="#0000ff"/>
<path d="M582.80,145.49L585.55,150.24L580.05,150.24Z" fill="#0000ff"/>
<path d="M586.47,146.37L589.22,151.12L583.72,151.12Z" fill="#0000ff"/>
<path d="M590.13,147.16L592.88,151.91L587.38,151.91Z" fill="#0000ff"/>
<path d="M593.80,147.86L596.55,152.61L591.05,152.61Z" fill="#0000ff"/>
<path d="M597.47,148.48L600.22,153.23L594.72,153.23Z" fill="#0000ff"/>
<path d="M601.13,149.02L603.88,153.77L598.38,153.77Z" fill="#0000ff"/>
<path d="M604.80,149.51L607.55,154.26L602.05,154.26Z" fill="#0000ff"/>
<path d="M608.47,149.94L611.22,154.69L605.72,154.69Z" fill="#0000ff"/>
<path d="M612.13,150.28L614.88,155.03L609.38,155.03Z" fill="#0000ff"/>
<path d="M615.80,150.54L618.55,155.29L613.05,155.29Z" fill="#0000ff"/>
<path d="M619.47,150.79L622.22,155.54L616.72,155.54Z" fill="#0000ff"/>
<path d="M623.13,151.02L625.88,155.77L620.38,155.77Z" fill="#0000ff"/>
<path d="M626.80,151.22L629.55,155.97L624.05,155.97Z" fill="#0000ff"/>
<path d="M630.47,151.38L633.22,156.13L627.72,156.13Z" fill="#0000ff"/>
<path d="M634.13,151.49L636.88,156.24L631.38,156.24Z" fill="#0000ff"/>
<path d="M637.80,151.53L640.55,156.28L635.05,156.28Z" fill="#0000ff"/>
<polyline points="417.80,112.10 421.47,112.36 425.13,112.59 428.80,112.79 432.47,112.93 436.13,113.11 439.80,113.48 443.47,114.21 447.13,115.08 450.80,115.93 454.47,116.87 458.13,117.87 461.80,118.90 465.47,120.20 469.13,122.27 472.80,124.33 476.47,126.22 480.13,127.87 483.80,129.48 487.47,131.23 491.13,133.09 494.80,134.92 498.47,136.68 502.13,138.40 505.80,139.90 509.47,141.16 513.13,142.26 516.80,143.20 520.47,143.98 524.13,144.67 527.80,145.31 531.47,145.95 535.13,146.57 538.80,147.14 542.47,147.63 546.13,147.99 549.80,148.26 553.47,148.46 557.13,148.66 560.80,148.89 564.47,149.19 568.13,149.59 571.80,150.07 575.47,150.60 579.13,151.17 582.80,151.80 586.47,152.56 590.13,153.37 593.80,154.15 597.47,154.82 601.13,155.37 604.80,155.89 608.47,156.40 612.13,156.88 615.80,157.34 619.47,157.77 623.13,158.17 626.80,158.52 630.47,158.83 634.13,159.10 637.80,159.31" fill="none" stroke="#ff00ff" stroke-width="0.8"/>
<path d="M417.80,114.85L420.55,110.10L415.05,110.10Z" fill="#ff00ff"/>
<path d="M421.47,115.11L424.22,110.36L418.72,110.36Z" fill="#ff00ff"/>
<path d="M425.13,115.34L427.88,110.59L422.38,110.59Z" fill="#ff00ff"/>
<path d="M428.80,115.54L431.55,110.79L426.05,110.79Z" fill="#ff00ff"/>
<path d="M432.47,115.68L435.22,110.93L429.72,110.93Z" fill="#ff00ff"/>
<path d="M436.13,115.86L438.88,111.11L433.38,111.11Z" fill="#ff00ff"/>
<path d="M439.80,116.23L442.55,111.48L437.05,111.48Z" fill="#ff00ff"/>
<path d="M443.47,116.96L446.22,112.21L440.72,112.21Z" fill="#ff00ff"/>
<path d="M447.13,117.83L449.88,113.08L444.38,113.08Z" fill="#ff00ff"/>
<path d="M450.80,118.68L453.55,113.93L448.05,113.93Z" fill="#ff00ff"/>
<path d="M454.47,119.62L457.22,114.87L451.72,114.87Z" fill="#ff00ff"/>
<path d="M458.13,120.62L460.88,115.87L455.38,115.87Z" fill="#ff00ff"/>
<path d="M461.80,121.65L464.55,116.90L459.05,116.90Z" fill="#ff00ff"/>
<path d="M465.47,122.95L468.22,118.20L462.72,118.20Z" fill="#ff00ff"/>
<path d="M469.13,125.02L471.88,120.27L466.38,120.27Z" fill="#ff00ff"/>
<path d="M472.80,127.08L475.55,122.33L470.05,122.33Z" fill="#ff00ff"/>
<path d="M476.47,128.97L479.22,124.22L473.72,124.22Z" fill="#ff00ff"/>
<path d="M480.13,130.62L482.88,125.87L477.38,125.87Z" fill="#ff00ff"/>
<path d="M483.80,132.23L486.55,127.48L481.05,127.48Z" fill="#ff00ff"/>
<path d="M487.47,133.98L490.22,129.23L484.72,129.23Z" fill="#ff00ff"/>
<path d="M491.13,135.84L493.88,131.09L488.38,131.09Z" fill="#ff00ff"/>
<path d="M494.80,137.67L497.55,132.92L492.05,132.92Z" fill="#ff00ff"/>
<path d="M498.47,139.43L501.22,134.68L495.72,134.68Z" fill="#ff00ff"/>
<path d="M502.13,141.15L504.88,136.40L499.38,136.40Z" fill="#ff00ff"/>
<path d="M505.80,142.65L508.55,137.90L503.05,137.90Z" fill="#ff00ff"/>
<path d="M509.47,143.91L512.22,139.16L506.72,139.16Z" fill="#ff00ff"/>
<path d="M513.13,145.01L515.88,140.26L510.38,140.26Z" fill="#ff00ff"/>
<path d="M516.80,145.95L519.55,141.20L514.05,141.20Z" fill="#ff00ff"/>
<path d="M520.47,146.73L523.22,141.98L517.72,141.98Z" fill="#ff00ff"/>
<path d="M524.13,147.42L526.88,142.67L521.38,142.67Z" fill="#ff00ff"/>
<path d="M527.80,148.06L530.55,143.31L525.05,143.31Z" fill="#ff00ff"/>
<path d="M531.47,148.70L534.22,143.95L528.72,143.95Z" fill="#ff00ff"/>
<path d="M535.13,149.32L537.88,144.57L532.38,144.57Z" fill="#ff00ff"/>
<path d="M538.80,149.89L541.55,145.14L536.05,145.14Z" fill="#ff00ff"/>
<path d="M542.47,150.38L545.22,145.63L539.72,145.63Z" fill="#ff00ff"/>
<path d="M546.13,150.74L548.88,145.99L543.38,145.99Z" fill="#ff00ff"/>
<path d="M549.80,151.01L552.55,146.26L547.05,146.26Z" fill="#ff00ff"/>
<path d="M553.47,151.21L556.22,146.46L550.72,146.46Z" fill="#ff00ff"/>
<path d="M557.13,151.41L559.88,146.66L554.38,146.66Z" fill="#ff00ff"/>
<path d="M560.80,151.64L563.55,146.89L558.05,146.89Z" fill="#ff00ff"/>
<path d="M564.47,151.94L567.22,147.19L561.72,147.19Z" fill="#ff00ff"/>
<path d="M568.13,152.34L570.88,147.59L565.38,147.59Z" fill="#ff00ff"/>
<path d="M571.80,152.82L574.55,148.07L569.05,148.07Z" fill="#ff00ff"/>
<path d="M575.47,153.35L578.22,148.60L572.72,148.60Z" fill="#ff00ff"/>
<path d="M579.13,153.92L581.88,149.17L576.38,149.17Z" fill="#ff00ff"/>
<path d="M582.80,154.55L585.55,149.80L580.05,149.80Z" fill="#ff00ff"/>
<path d="M586.47,155.31L589.22,150.56L583.72,150.56Z" fill="#ff00ff"/>
<path d="M590.13,156.12L592.88,151.37L587.38,151.37Z" fill="#ff00ff"/>
<path d="M593.80,156.90L596.55,152.15L591.05,152.15Z" fill="#ff00ff"/>
<path d="M597.47,157.57L600.22,152.82L594.72,152.82Z" fill="#ff00ff"/>
<path d="M601.13,158.12L603.88,153.37L598.38,153.37Z" fill="#ff00ff"/>
<path d="M604.80,158.64L607.55,153.89L602.05,153.89Z" fill="#ff00ff"/>
<path d="M608.47,159.15L611.22,154.40L605.72,154.40Z" fill="#ff00ff"/>
<path d="M612.13,159.63L614.88,154.88L609.38,154.88Z" fill="#ff00ff"/>
<path d="M615.80,160.09L618.55,155.34L613.05,155.34Z" fill="#ff00ff"/>
<path d="M619.47,160.52L622.22,155.77L616.72,155.77Z" fill="#ff00ff"/>
<path d="M623.13,160.92L625.88,156.17L620.38,156.17Z" fill="#ff00ff"/>
<path d="M626.80,161.27L629.55,156.52L624.05,156.52Z" fill="#ff00ff"/>
<path d="M630.47,161.58L633.22,156.83L627.72,156.83Z" fill="#ff00ff"/>
<path d="M634.13,161.85L636.88,157.10L631.38,157.10Z" fill="#ff00ff"/>
<path d="M637.80,162.06L640.55,157.31L635.05,157.31Z" fill="#ff00ff"/>
<rect x="396.4" y="6.9" width="263.6" height="193.7" fill="none" stroke="#666666" stroke-width="1.6"/>
<line x1="417.80" y1="200.6" x2="417.80" y2="196.1" stroke="#666666" stroke-width="1.1"/>
<line x1="461.80" y1="200.6" x2="461.80" y2="196.1" stroke="#666666" stroke-width="1.1"/>
<line x1="505.80" y1="200.6" x2="505.80" y2="196.1" stroke="#666666" stroke-width="1.1"/>
<line x1="549.80" y1="200.6" x2="549.80" y2="196.1" stroke="#666666" stroke-width="1.1"/>
<line x1="593.80" y1="200.6" x2="593.80" y2="196.1" stroke="#666666" stroke-width="1.1"/>
<line x1="637.80" y1="200.6" x2="637.80" y2="196.1" stroke="#666666" stroke-width="1.1"/>
<line x1="439.80" y1="200.6" x2="439.80" y2="198.6" stroke="#666666" stroke-width="1.1"/>
<line x1="483.80" y1="200.6" x2="483.80" y2="198.6" stroke="#666666" stroke-width="1.1"/>
<line x1="527.80" y1="200.6" x2="527.80" y2="198.6" stroke="#666666" stroke-width="1.1"/>
<line x1="571.80" y1="200.6" x2="571.80" y2="198.6" stroke="#666666" stroke-width="1.1"/>
<line x1="615.80" y1="200.6" x2="615.80" y2="198.6" stroke="#666666" stroke-width="1.1"/>
<line x1="396.4" y1="185.00" x2="400.9" y2="185.00" stroke="#666666" stroke-width="1.1"/>
<line x1="396.4" y1="152.60" x2="400.9" y2="152.60" stroke="#666666" stroke-width="1.1"/>
<line x1="396.4" y1="120.20" x2="400.9" y2="120.20" stroke="#666666" stroke-width="1.1"/>
<line x1="396.4" y1="87.80" x2="400.9" y2="87.80" stroke="#666666" stroke-width="1.1"/>
<line x1="396.4" y1="55.40" x2="400.9" y2="55.40" stroke="#666666" stroke-width="1.1"/>
<line x1="396.4" y1="23.00" x2="400.9" y2="23.00" stroke="#666666" stroke-width="1.1"/>
<line x1="396.4" y1="201.20" x2="398.4" y2="201.20" stroke="#666666" stroke-width="1.1"/>
<line x1="396.4" y1="168.80" x2="398.4" y2="168.80" stroke="#666666" stroke-width="1.1"/>
<line x1="396.4" y1="136.40" x2="398.4" y2="136.40" stroke="#666666" stroke-width="1.1"/>
<line x1="396.4" y1="104.00" x2="398.4" y2="104.00" stroke="#666666" stroke-width="1.1"/>
<line x1="396.4" y1="71.60" x2="398.4" y2="71.60" stroke="#666666" stroke-width="1.1"/>
<line x1="396.4" y1="39.20" x2="398.4" y2="39.20" stroke="#666666" stroke-width="1.1"/>
<line x1="396.4" y1="6.80" x2="398.4" y2="6.80" stroke="#666666" stroke-width="1.1"/>
<text x="414.60" y="213.90" font-size="11.5" stroke="#454545" stroke-width="0.3">0</text>
<path d="M462.89,213.90H461.88V207.72Q461.51,208.06 460.92,208.37Q460.32,208.68 459.85,208.85V207.95Q460.69,207.55 461.32,207.02Q461.95,206.49 462.21,205.99H462.89Z" stroke="#454545" stroke-width="0.3"/>
<text x="502.60" y="213.90" font-size="11.5" stroke="#454545" stroke-width="0.3">2</text>
<text x="546.60" y="213.90" font-size="11.5" stroke="#454545" stroke-width="0.3">3</text>
<text x="590.60" y="213.90" font-size="11.5" stroke="#454545" stroke-width="0.3">4</text>
<text x="634.60" y="213.90" font-size="11.5" stroke="#454545" stroke-width="0.3">5</text>
<text x="385.20" y="188.30" font-size="11.5" stroke="#454545" stroke-width="0.3">0</text>
<path d="M389.49,155.90H388.48V149.72Q388.11,150.06 387.52,150.37Q386.92,150.68 386.45,150.85V149.95Q387.29,149.55 387.92,149.02Q388.55,148.49 388.82,147.99H389.49Z" stroke="#454545" stroke-width="0.3"/>
<text x="385.20" y="123.50" font-size="11.5" stroke="#454545" stroke-width="0.3">2</text>
<text x="385.20" y="91.10" font-size="11.5" stroke="#454545" stroke-width="0.3">3</text>
<text x="385.20" y="58.70" font-size="11.5" stroke="#454545" stroke-width="0.3">4</text>
<text x="385.20" y="26.30" font-size="11.5" stroke="#454545" stroke-width="0.3">5</text>
<rect x="557.5" y="30.2" width="89.5" height="57.8" fill="#000"/>
<rect x="554.5" y="27.2" width="89.5" height="57.8" fill="#fff" stroke="#999" stroke-width="0.8"/>
<line x1="560.9" y1="36.5" x2="586.6" y2="36.5" stroke="#000000" stroke-width="1.2" opacity="0.85"/>
<rect x="572.05" y="34.80" width="3.40" height="3.40" fill="#000000"/>
<text x="589.5" y="40.00" font-size="11.4" fill="#333" stroke="#333" stroke-width="0.25">BM-25</text>
<circle cx="625.27" cy="34.80" r="1.25" fill="none" stroke="#999" stroke-width="0.9"/>
<text x="626.67" y="40.00" font-family="Liberation Serif, serif" font-size="11.17" fill="#444">C</text>
<line x1="560.9" y1="50.5" x2="586.6" y2="50.5" stroke="#ff0000" stroke-width="1.2" opacity="0.85"/>
<circle cx="573.75" cy="50.50" r="1.95" fill="#ff0000"/>
<text x="589.5" y="54.00" font-size="11.4" fill="#333" stroke="#333" stroke-width="0.25">Joint-25</text>
<circle cx="632.25" cy="48.80" r="1.25" fill="none" stroke="#999" stroke-width="0.9"/>
<text x="633.65" y="54.00" font-family="Liberation Serif, serif" font-size="11.17" fill="#444">C</text>
<line x1="560.9" y1="64.6" x2="586.6" y2="64.6" stroke="#0000ff" stroke-width="1.2" opacity="0.85"/>
<path d="M573.75,62.26L576.09,66.30L571.41,66.30Z" fill="#0000ff"/>
<text x="589.5" y="68.10" font-size="11.4" fill="#333" stroke="#333" stroke-width="0.25">BM-50</text>
<circle cx="625.27" cy="62.90" r="1.25" fill="none" stroke="#999" stroke-width="0.9"/>
<text x="626.67" y="68.10" font-family="Liberation Serif, serif" font-size="11.17" fill="#444">C</text>
<line x1="560.9" y1="78.6" x2="586.6" y2="78.6" stroke="#ff00ff" stroke-width="1.2" opacity="0.85"/>
<path d="M573.75,80.94L576.09,76.90L571.41,76.90Z" fill="#ff00ff"/>
<text x="589.5" y="82.10" font-size="11.4" fill="#333" stroke="#333" stroke-width="0.25">Joint-50</text>
<circle cx="632.25" cy="76.90" r="1.25" fill="none" stroke="#999" stroke-width="0.9"/>
<text x="633.65" y="82.10" font-family="Liberation Serif, serif" font-size="11.17" fill="#444">C</text>
<text x="342.8" y="18.6" font-family="Liberation Serif, serif" font-size="26" fill="#1e1e1e" stroke="#1e1e1e" stroke-width="0.3">(b)</text>
<text x="528.3" y="235.1" text-anchor="middle" font-size="14.1" fill="#333" stroke="#333" stroke-width="0.3">Log<tspan font-style="italic">f</tspan> (Hz)</text>
<text transform="translate(374,114.4) rotate(-90)" text-anchor="middle" font-size="14.2" fill="#333" stroke="#333" stroke-width="0.3">LogZ (&#937; cm<tspan font-size="8.5" dy="-6.5">2</tspan><tspan dy="6.5">)</tspan></text>
<rect x="68.8" y="251.9" width="269.7" height="197.9" fill="url(#g)"/>
<polyline points="89.10,376.94 92.56,370.17 96.02,362.83 99.49,354.34 102.95,346.11 106.41,337.72 109.88,329.76 113.34,322.06 116.80,314.46 120.26,306.76 123.72,300.27 127.19,294.05 130.65,288.30 134.11,283.37 137.57,279.23 141.04,276.64 144.50,274.60 147.96,273.73 151.42,274.43 154.89,276.12 158.35,278.25 161.81,281.49 165.27,285.97 168.74,292.85 172.20,300.00 175.66,307.55 179.12,315.70 182.59,324.81 186.05,334.10 189.51,343.16 192.97,352.17 196.44,361.21 199.90,369.76 203.36,378.30 206.82,386.09 210.29,392.23 213.75,396.60 217.21,400.19 220.67,403.53 224.14,406.59 227.60,409.54 231.06,412.48 234.52,415.21 237.99,417.60 241.45,419.78 244.91,421.52 248.38,422.80 251.84,423.82 255.30,424.58 258.76,425.24 262.23,425.66 265.69,425.67 269.15,425.54 272.61,425.31 276.07,424.41 279.54,422.77 283.00,420.78 286.46,418.19 289.92,415.24 293.39,411.72 296.85,407.99" fill="none" stroke="#000000" stroke-width="0.8"/>
<rect x="87.10" y="374.94" width="4.00" height="4.00" fill="#000000"/>
<rect x="90.56" y="368.17" width="4.00" height="4.00" fill="#000000"/>
<rect x="94.02" y="360.83" width="4.00" height="4.00" fill="#000000"/>
<rect x="97.49" y="352.34" width="4.00" height="4.00" fill="#000000"/>
<rect x="100.95" y="344.11" width="4.00" height="4.00" fill="#000000"/>
<rect x="104.41" y="335.72" width="4.00" height="4.00" fill="#000000"/>
<rect x="107.88" y="327.76" width="4.00" height="4.00" fill="#000000"/>
<rect x="111.34" y="320.06" width="4.00" height="4.00" fill="#000000"/>
<rect x="114.80" y="312.46" width="4.00" height="4.00" fill="#000000"/>
<rect x="118.26" y="304.76" width="4.00" height="4.00" fill="#000000"/>
<rect x="121.72" y="298.27" width="4.00" height="4.00" fill="#000000"/>
<rect x="125.19" y="292.05" width="4.00" height="4.00" fill="#000000"/>
<rect x="128.65" y="286.30" width="4.00" height="4.00" fill="#000000"/>
<rect x="132.11" y="281.37" width="4.00" height="4.00" fill="#000000"/>
<rect x="135.57" y="277.23" width="4.00" height="4.00" fill="#000000"/>
<rect x="139.04" y="274.64" width="4.00" height="4.00" fill="#000000"/>
<rect x="142.50" y="272.60" width="4.00" height="4.00" fill="#000000"/>
<rect x="145.96" y="271.73" width="4.00" height="4.00" fill="#000000"/>
<rect x="149.42" y="272.43" width="4.00" height="4.00" fill="#000000"/>
<rect x="152.89" y="274.12" width="4.00" height="4.00" fill="#000000"/>
<rect x="156.35" y="276.25" width="4.00" height="4.00" fill="#000000"/>
<rect x="159.81" y="279.49" width="4.00" height="4.00" fill="#000000"/>
<rect x="163.27" y="283.97" width="4.00" height="4.00" fill="#000000"/>
<rect x="166.74" y="290.85" width="4.00" height="4.00" fill="#000000"/>
<rect x="170.20" y="298.00" width="4.00" height="4.00" fill="#000000"/>
<rect x="173.66" y="305.55" width="4.00" height="4.00" fill="#000000"/>
<rect x="177.12" y="313.70" width="4.00" height="4.00" fill="#000000"/>
<rect x="180.59" y="322.81" width="4.00" height="4.00" fill="#000000"/>
<rect x="184.05" y="332.10" width="4.00" height="4.00" fill="#000000"/>
<rect x="187.51" y="341.16" width="4.00" height="4.00" fill="#000000"/>
<rect x="190.97" y="350.17" width="4.00" height="4.00" fill="#000000"/>
<rect x="194.44" y="359.21" width="4.00" height="4.00" fill="#000000"/>
<rect x="197.90" y="367.76" width="4.00" height="4.00" fill="#000000"/>
<rect x="201.36" y="376.30" width="4.00" height="4.00" fill="#000000"/>
<rect x="204.82" y="384.09" width="4.00" height="4.00" fill="#000000"/>
<rect x="208.29" y="390.23" width="4.00" height="4.00" fill="#000000"/>
<rect x="211.75" y="394.60" width="4.00" height="4.00" fill="#000000"/>
<rect x="215.21" y="398.19" width="4.00" height="4.00" fill="#000000"/>
<rect x="218.67" y="401.53" width="4.00" height="4.00" fill="#000000"/>
<rect x="222.14" y="404.59" width="4.00" height="4.00" fill="#000000"/>
<rect x="225.60" y="407.54" width="4.00" height="4.00" fill="#000000"/>
<rect x="229.06" y="410.48" width="4.00" height="4.00" fill="#000000"/>
<rect x="232.52" y="413.21" width="4.00" height="4.00" fill="#000000"/>
<rect x="235.99" y="415.60" width="4.00" height="4.00" fill="#000000"/>
<rect x="239.45" y="417.78" width="4.00" height="4.00" fill="#000000"/>
<rect x="242.91" y="419.52" width="4.00" height="4.00" fill="#000000"/>
<rect x="246.38" y="420.80" width="4.00" height="4.00" fill="#000000"/>
<rect x="249.84" y="421.82" width="4.00" height="4.00" fill="#000000"/>
<rect x="253.30" y="422.58" width="4.00" height="4.00" fill="#000000"/>
<rect x="256.76" y="423.24" width="4.00" height="4.00" fill="#000000"/>
<rect x="260.23" y="423.66" width="4.00" height="4.00" fill="#000000"/>
<rect x="263.69" y="423.67" width="4.00" height="4.00" fill="#000000"/>
<rect x="267.15" y="423.54" width="4.00" height="4.00" fill="#000000"/>
<rect x="270.61" y="423.31" width="4.00" height="4.00" fill="#000000"/>
<rect x="274.07" y="422.41" width="4.00" height="4.00" fill="#000000"/>
<rect x="277.54" y="420.77" width="4.00" height="4.00" fill="#000000"/>
<rect x="281.00" y="418.78" width="4.00" height="4.00" fill="#000000"/>
<rect x="284.46" y="416.19" width="4.00" height="4.00" fill="#000000"/>
<rect x="287.92" y="413.24" width="4.00" height="4.00" fill="#000000"/>
<rect x="291.39" y="409.72" width="4.00" height="4.00" fill="#000000"/>
<rect x="294.85" y="405.99" width="4.00" height="4.00" fill="#000000"/>
<polyline points="89.10,394.78 92.56,388.73 96.02,381.36 99.49,373.33 102.95,365.75 106.41,356.17 109.88,348.50 113.34,339.54 116.80,330.56 120.26,322.97 123.72,315.94 127.19,308.99 130.65,302.49 134.11,296.80 137.57,291.83 141.04,287.88 144.50,284.66 147.96,283.07 151.42,282.11 154.89,282.07 158.35,283.43 161.81,285.51 165.27,289.07 168.74,293.79 172.20,300.01 175.66,307.57 179.12,315.65 182.59,324.68 186.05,334.13 189.51,343.78 192.97,353.18 196.44,361.75 199.90,370.39 203.36,378.60 206.82,385.68 210.29,392.35 213.75,398.48 217.21,403.35 220.67,407.43 224.14,410.95 227.60,414.26 231.06,417.63 234.52,420.64 237.99,422.87 241.45,424.68 244.91,426.15 248.38,427.38 251.84,428.42 255.30,429.21 258.76,429.89 262.23,430.37 265.69,430.56 269.15,430.67 272.61,430.72 276.07,430.66 279.54,430.49 283.00,429.88 286.46,428.62 289.92,427.32 293.39,425.93 296.85,424.38" fill="none" stroke="#ff0000" stroke-width="0.8"/>
<circle cx="89.10" cy="394.78" r="2.30" fill="#ff0000"/>
<circle cx="92.56" cy="388.73" r="2.30" fill="#ff0000"/>
<circle cx="96.02" cy="381.36" r="2.30" fill="#ff0000"/>
<circle cx="99.49" cy="373.33" r="2.30" fill="#ff0000"/>
<circle cx="102.95" cy="365.75" r="2.30" fill="#ff0000"/>
<circle cx="106.41" cy="356.17" r="2.30" fill="#ff0000"/>
<circle cx="109.88" cy="348.50" r="2.30" fill="#ff0000"/>
<circle cx="113.34" cy="339.54" r="2.30" fill="#ff0000"/>
<circle cx="116.80" cy="330.56" r="2.30" fill="#ff0000"/>
<circle cx="120.26" cy="322.97" r="2.30" fill="#ff0000"/>
<circle cx="123.72" cy="315.94" r="2.30" fill="#ff0000"/>
<circle cx="127.19" cy="308.99" r="2.30" fill="#ff0000"/>
<circle cx="130.65" cy="302.49" r="2.30" fill="#ff0000"/>
<circle cx="134.11" cy="296.80" r="2.30" fill="#ff0000"/>
<circle cx="137.57" cy="291.83" r="2.30" fill="#ff0000"/>
<circle cx="141.04" cy="287.88" r="2.30" fill="#ff0000"/>
<circle cx="144.50" cy="284.66" r="2.30" fill="#ff0000"/>
<circle cx="147.96" cy="283.07" r="2.30" fill="#ff0000"/>
<circle cx="151.42" cy="282.11" r="2.30" fill="#ff0000"/>
<circle cx="154.89" cy="282.07" r="2.30" fill="#ff0000"/>
<circle cx="158.35" cy="283.43" r="2.30" fill="#ff0000"/>
<circle cx="161.81" cy="285.51" r="2.30" fill="#ff0000"/>
<circle cx="165.27" cy="289.07" r="2.30" fill="#ff0000"/>
<circle cx="168.74" cy="293.79" r="2.30" fill="#ff0000"/>
<circle cx="172.20" cy="300.01" r="2.30" fill="#ff0000"/>
<circle cx="175.66" cy="307.57" r="2.30" fill="#ff0000"/>
<circle cx="179.12" cy="315.65" r="2.30" fill="#ff0000"/>
<circle cx="182.59" cy="324.68" r="2.30" fill="#ff0000"/>
<circle cx="186.05" cy="334.13" r="2.30" fill="#ff0000"/>
<circle cx="189.51" cy="343.78" r="2.30" fill="#ff0000"/>
<circle cx="192.97" cy="353.18" r="2.30" fill="#ff0000"/>
<circle cx="196.44" cy="361.75" r="2.30" fill="#ff0000"/>
<circle cx="199.90" cy="370.39" r="2.30" fill="#ff0000"/>
<circle cx="203.36" cy="378.60" r="2.30" fill="#ff0000"/>
<circle cx="206.82" cy="385.68" r="2.30" fill="#ff0000"/>
<circle cx="210.29" cy="392.35" r="2.30" fill="#ff0000"/>
<circle cx="213.75" cy="398.48" r="2.30" fill="#ff0000"/>
<circle cx="217.21" cy="403.35" r="2.30" fill="#ff0000"/>
<circle cx="220.67" cy="407.43" r="2.30" fill="#ff0000"/>
<circle cx="224.14" cy="410.95" r="2.30" fill="#ff0000"/>
<circle cx="227.60" cy="414.26" r="2.30" fill="#ff0000"/>
<circle cx="231.06" cy="417.63" r="2.30" fill="#ff0000"/>
<circle cx="234.52" cy="420.64" r="2.30" fill="#ff0000"/>
<circle cx="237.99" cy="422.87" r="2.30" fill="#ff0000"/>
<circle cx="241.45" cy="424.68" r="2.30" fill="#ff0000"/>
<circle cx="244.91" cy="426.15" r="2.30" fill="#ff0000"/>
<circle cx="248.38" cy="427.38" r="2.30" fill="#ff0000"/>
<circle cx="251.84" cy="428.42" r="2.30" fill="#ff0000"/>
<circle cx="255.30" cy="429.21" r="2.30" fill="#ff0000"/>
<circle cx="258.76" cy="429.89" r="2.30" fill="#ff0000"/>
<circle cx="262.23" cy="430.37" r="2.30" fill="#ff0000"/>
<circle cx="265.69" cy="430.56" r="2.30" fill="#ff0000"/>
<circle cx="269.15" cy="430.67" r="2.30" fill="#ff0000"/>
<circle cx="272.61" cy="430.72" r="2.30" fill="#ff0000"/>
<circle cx="276.07" cy="430.66" r="2.30" fill="#ff0000"/>
<circle cx="279.54" cy="430.49" r="2.30" fill="#ff0000"/>
<circle cx="283.00" cy="429.88" r="2.30" fill="#ff0000"/>
<circle cx="286.46" cy="428.62" r="2.30" fill="#ff0000"/>
<circle cx="289.92" cy="427.32" r="2.30" fill="#ff0000"/>
<circle cx="293.39" cy="425.93" r="2.30" fill="#ff0000"/>
<circle cx="296.85" cy="424.38" r="2.30" fill="#ff0000"/>
<polyline points="89.10,434.29 92.56,433.71 96.02,430.54 99.49,427.58 102.95,423.58 106.41,419.68 109.88,416.07 113.34,411.48 116.80,405.17 120.26,400.15 123.72,393.44 127.19,387.00 130.65,381.29 134.11,375.72 137.57,369.01 141.04,360.79 144.50,351.83 147.96,345.10 151.42,338.54 154.89,333.11 158.35,328.91 161.81,324.24 165.27,319.17 168.74,315.07 172.20,311.46 175.66,308.17 179.12,305.05 182.59,302.03 186.05,299.34 189.51,297.18 192.97,295.34 196.44,293.91 199.90,292.74 203.36,291.99 206.82,292.27 210.29,293.33 213.75,294.83 217.21,297.72 220.67,301.75 224.14,305.74 227.60,309.96 231.06,315.26 234.52,322.32 237.99,329.80 241.45,337.43 244.91,345.24 248.38,353.22 251.84,361.14 255.30,368.42 258.76,374.51 262.23,380.56 265.69,386.99 269.15,392.96 272.61,398.41 276.07,403.27 279.54,407.45 283.00,411.00 286.46,413.62 289.92,415.62 293.39,417.26 296.85,418.56" fill="none" stroke="#0000ff" stroke-width="0.8"/>
<path d="M89.10,431.54L91.85,436.29L86.35,436.29Z" fill="#0000ff"/>
<path d="M92.56,430.96L95.31,435.71L89.81,435.71Z" fill="#0000ff"/>
<path d="M96.02,427.79L98.77,432.54L93.27,432.54Z" fill="#0000ff"/>
<path d="M99.49,424.83L102.24,429.58L96.74,429.58Z" fill="#0000ff"/>
<path d="M102.95,420.83L105.70,425.58L100.20,425.58Z" fill="#0000ff"/>
<path d="M106.41,416.93L109.16,421.68L103.66,421.68Z" fill="#0000ff"/>
<path d="M109.88,413.32L112.62,418.07L107.12,418.07Z" fill="#0000ff"/>
<path d="M113.34,408.73L116.09,413.48L110.59,413.48Z" fill="#0000ff"/>
<path d="M116.80,402.42L119.55,407.17L114.05,407.17Z" fill="#0000ff"/>
<path d="M120.26,397.40L123.01,402.15L117.51,402.15Z" fill="#0000ff"/>
<path d="M123.72,390.69L126.47,395.44L120.97,395.44Z" fill="#0000ff"/>
<path d="M127.19,384.25L129.94,389.00L124.44,389.00Z" fill="#0000ff"/>
<path d="M130.65,378.54L133.40,383.29L127.90,383.29Z" fill="#0000ff"/>
<path d="M134.11,372.97L136.86,377.72L131.36,377.72Z" fill="#0000ff"/>
<path d="M137.57,366.26L140.32,371.01L134.82,371.01Z" fill="#0000ff"/>
<path d="M141.04,358.04L143.79,362.79L138.29,362.79Z" fill="#0000ff"/>
<path d="M144.50,349.08L147.25,353.83L141.75,353.83Z" fill="#0000ff"/>
<path d="M147.96,342.35L150.71,347.10L145.21,347.10Z" fill="#0000ff"/>
<path d="M151.42,335.79L154.17,340.54L148.67,340.54Z" fill="#0000ff"/>
<path d="M154.89,330.36L157.64,335.11L152.14,335.11Z" fill="#0000ff"/>
<path d="M158.35,326.16L161.10,330.91L155.60,330.91Z" fill="#0000ff"/>
<path d="M161.81,321.49L164.56,326.24L159.06,326.24Z" fill="#0000ff"/>
<path d="M165.27,316.42L168.02,321.17L162.52,321.17Z" fill="#0000ff"/>
<path d="M168.74,312.32L171.49,317.07L165.99,317.07Z" fill="#0000ff"/>
<path d="M172.20,308.71L174.95,313.46L169.45,313.46Z" fill="#0000ff"/>
<path d="M175.66,305.42L178.41,310.17L172.91,310.17Z" fill="#0000ff"/>
<path d="M179.12,302.30L181.88,307.05L176.38,307.05Z" fill="#0000ff"/>
<path d="M182.59,299.28L185.34,304.03L179.84,304.03Z" fill="#0000ff"/>
<path d="M186.05,296.59L188.80,301.34L183.30,301.34Z" fill="#0000ff"/>
<path d="M189.51,294.43L192.26,299.18L186.76,299.18Z" fill="#0000ff"/>
<path d="M192.97,292.59L195.72,297.34L190.22,297.34Z" fill="#0000ff"/>
<path d="M196.44,291.16L199.19,295.91L193.69,295.91Z" fill="#0000ff"/>
<path d="M199.90,289.99L202.65,294.74L197.15,294.74Z" fill="#0000ff"/>
<path d="M203.36,289.24L206.11,293.99L200.61,293.99Z" fill="#0000ff"/>
<path d="M206.82,289.52L209.57,294.27L204.07,294.27Z" fill="#0000ff"/>
<path d="M210.29,290.58L213.04,295.33L207.54,295.33Z" fill="#0000ff"/>
<path d="M213.75,292.08L216.50,296.83L211.00,296.83Z" fill="#0000ff"/>
<path d="M217.21,294.97L219.96,299.72L214.46,299.72Z" fill="#0000ff"/>
<path d="M220.67,299.00L223.42,303.75L217.92,303.75Z" fill="#0000ff"/>
<path d="M224.14,302.99L226.89,307.74L221.39,307.74Z" fill="#0000ff"/>
<path d="M227.60,307.21L230.35,311.96L224.85,311.96Z" fill="#0000ff"/>
<path d="M231.06,312.51L233.81,317.26L228.31,317.26Z" fill="#0000ff"/>
<path d="M234.52,319.57L237.27,324.32L231.77,324.32Z" fill="#0000ff"/>
<path d="M237.99,327.05L240.74,331.80L235.24,331.80Z" fill="#0000ff"/>
<path d="M241.45,334.68L244.20,339.43L238.70,339.43Z" fill="#0000ff"/>
<path d="M244.91,342.49L247.66,347.24L242.16,347.24Z" fill="#0000ff"/>
<path d="M248.38,350.47L251.12,355.22L245.62,355.22Z" fill="#0000ff"/>
<path d="M251.84,358.39L254.59,363.14L249.09,363.14Z" fill="#0000ff"/>
<path d="M255.30,365.67L258.05,370.42L252.55,370.42Z" fill="#0000ff"/>
<path d="M258.76,371.76L261.51,376.51L256.01,376.51Z" fill="#0000ff"/>
<path d="M262.23,377.81L264.98,382.56L259.48,382.56Z" fill="#0000ff"/>
<path d="M265.69,384.24L268.44,388.99L262.94,388.99Z" fill="#0000ff"/>
<path d="M269.15,390.21L271.90,394.96L266.40,394.96Z" fill="#0000ff"/>
<path d="M272.61,395.66L275.36,400.41L269.86,400.41Z" fill="#0000ff"/>
<path d="M276.07,400.52L278.82,405.27L273.32,405.27Z" fill="#0000ff"/>
<path d="M279.54,404.70L282.29,409.45L276.79,409.45Z" fill="#0000ff"/>
<path d="M283.00,408.25L285.75,413.00L280.25,413.00Z" fill="#0000ff"/>
<path d="M286.46,410.87L289.21,415.62L283.71,415.62Z" fill="#0000ff"/>
<path d="M289.92,412.87L292.67,417.62L287.17,417.62Z" fill="#0000ff"/>
<path d="M293.39,414.51L296.14,419.26L290.64,419.26Z" fill="#0000ff"/>
<path d="M296.85,415.81L299.60,420.56L294.10,420.56Z" fill="#0000ff"/>
<polyline points="89.10,415.50 92.56,410.59 96.02,405.73 99.49,400.71 102.95,395.16 106.41,389.14 109.88,382.52 113.34,374.54 116.80,365.14 120.26,355.93 123.72,346.58 127.19,336.30 130.65,327.33 134.11,319.94 137.57,314.24 141.04,309.90 144.50,306.62 147.96,303.78 151.42,301.65 154.89,301.37 158.35,302.74 161.81,304.76 165.27,307.92 168.74,312.27 172.20,318.84 175.66,326.96 179.12,334.75 182.59,342.03 186.05,349.57 189.51,357.89 192.97,365.97 196.44,373.25 199.90,380.01 203.36,385.67 206.82,390.42 210.29,394.04 213.75,396.66 217.21,398.68 220.67,399.92 224.14,400.84 227.60,401.35 231.06,401.31 234.52,401.01 237.99,400.56 241.45,399.61 244.91,398.21 248.38,396.82 251.84,395.21 255.30,393.84 258.76,393.25 262.23,392.96 265.69,393.14 269.15,394.17 272.61,395.63 276.07,398.03 279.54,400.81 283.00,403.90 286.46,407.07 289.92,410.05 293.39,413.58 296.85,418.56" fill="none" stroke="#ff00ff" stroke-width="0.8"/>
<path d="M89.10,418.25L91.85,413.50L86.35,413.50Z" fill="#ff00ff"/>
<path d="M92.56,413.34L95.31,408.59L89.81,408.59Z" fill="#ff00ff"/>
<path d="M96.02,408.48L98.77,403.73L93.27,403.73Z" fill="#ff00ff"/>
<path d="M99.49,403.46L102.24,398.71L96.74,398.71Z" fill="#ff00ff"/>
<path d="M102.95,397.91L105.70,393.16L100.20,393.16Z" fill="#ff00ff"/>
<path d="M106.41,391.89L109.16,387.14L103.66,387.14Z" fill="#ff00ff"/>
<path d="M109.88,385.27L112.62,380.52L107.12,380.52Z" fill="#ff00ff"/>
<path d="M113.34,377.29L116.09,372.54L110.59,372.54Z" fill="#ff00ff"/>
<path d="M116.80,367.89L119.55,363.14L114.05,363.14Z" fill="#ff00ff"/>
<path d="M120.26,358.68L123.01,353.93L117.51,353.93Z" fill="#ff00ff"/>
<path d="M123.72,349.33L126.47,344.58L120.97,344.58Z" fill="#ff00ff"/>
<path d="M127.19,339.05L129.94,334.30L124.44,334.30Z" fill="#ff00ff"/>
<path d="M130.65,330.08L133.40,325.33L127.90,325.33Z" fill="#ff00ff"/>
<path d="M134.11,322.69L136.86,317.94L131.36,317.94Z" fill="#ff00ff"/>
<path d="M137.57,316.99L140.32,312.24L134.82,312.24Z" fill="#ff00ff"/>
<path d="M141.04,312.65L143.79,307.90L138.29,307.90Z" fill="#ff00ff"/>
<path d="M144.50,309.37L147.25,304.62L141.75,304.62Z" fill="#ff00ff"/>
<path d="M147.96,306.53L150.71,301.78L145.21,301.78Z" fill="#ff00ff"/>
<path d="M151.42,304.40L154.17,299.65L148.67,299.65Z" fill="#ff00ff"/>
<path d="M154.89,304.12L157.64,299.37L152.14,299.37Z" fill="#ff00ff"/>
<path d="M158.35,305.49L161.10,300.74L155.60,300.74Z" fill="#ff00ff"/>
<path d="M161.81,307.51L164.56,302.76L159.06,302.76Z" fill="#ff00ff"/>
<path d="M165.27,310.67L168.02,305.92L162.52,305.92Z" fill="#ff00ff"/>
<path d="M168.74,315.02L171.49,310.27L165.99,310.27Z" fill="#ff00ff"/>
<path d="M172.20,321.59L174.95,316.84L169.45,316.84Z" fill="#ff00ff"/>
<path d="M175.66,329.71L178.41,324.96L172.91,324.96Z" fill="#ff00ff"/>
<path d="M179.12,337.50L181.88,332.75L176.38,332.75Z" fill="#ff00ff"/>
<path d="M182.59,344.78L185.34,340.03L179.84,340.03Z" fill="#ff00ff"/>
<path d="M186.05,352.32L188.80,347.57L183.30,347.57Z" fill="#ff00ff"/>
<path d="M189.51,360.64L192.26,355.89L186.76,355.89Z" fill="#ff00ff"/>
<path d="M192.97,368.72L195.72,363.97L190.22,363.97Z" fill="#ff00ff"/>
<path d="M196.44,376.00L199.19,371.25L193.69,371.25Z" fill="#ff00ff"/>
<path d="M199.90,382.76L202.65,378.01L197.15,378.01Z" fill="#ff00ff"/>
<path d="M203.36,388.42L206.11,383.67L200.61,383.67Z" fill="#ff00ff"/>
<path d="M206.82,393.17L209.57,388.42L204.07,388.42Z" fill="#ff00ff"/>
<path d="M210.29,396.79L213.04,392.04L207.54,392.04Z" fill="#ff00ff"/>
<path d="M213.75,399.41L216.50,394.66L211.00,394.66Z" fill="#ff00ff"/>
<path d="M217.21,401.43L219.96,396.68L214.46,396.68Z" fill="#ff00ff"/>
<path d="M220.67,402.67L223.42,397.92L217.92,397.92Z" fill="#ff00ff"/>
<path d="M224.14,403.59L226.89,398.84L221.39,398.84Z" fill="#ff00ff"/>
<path d="M227.60,404.10L230.35,399.35L224.85,399.35Z" fill="#ff00ff"/>
<path d="M231.06,404.06L233.81,399.31L228.31,399.31Z" fill="#ff00ff"/>
<path d="M234.52,403.76L237.27,399.01L231.77,399.01Z" fill="#ff00ff"/>
<path d="M237.99,403.31L240.74,398.56L235.24,398.56Z" fill="#ff00ff"/>
<path d="M241.45,402.36L244.20,397.61L238.70,397.61Z" fill="#ff00ff"/>
<path d="M244.91,400.96L247.66,396.21L242.16,396.21Z" fill="#ff00ff"/>
<path d="M248.38,399.57L251.12,394.82L245.62,394.82Z" fill="#ff00ff"/>
<path d="M251.84,397.96L254.59,393.21L249.09,393.21Z" fill="#ff00ff"/>
<path d="M255.30,396.59L258.05,391.84L252.55,391.84Z" fill="#ff00ff"/>
<path d="M258.76,396.00L261.51,391.25L256.01,391.25Z" fill="#ff00ff"/>
<path d="M262.23,395.71L264.98,390.96L259.48,390.96Z" fill="#ff00ff"/>
<path d="M265.69,395.89L268.44,391.14L262.94,391.14Z" fill="#ff00ff"/>
<path d="M269.15,396.92L271.90,392.17L266.40,392.17Z" fill="#ff00ff"/>
<path d="M272.61,398.38L275.36,393.63L269.86,393.63Z" fill="#ff00ff"/>
<path d="M276.07,400.78L278.82,396.03L273.32,396.03Z" fill="#ff00ff"/>
<path d="M279.54,403.56L282.29,398.81L276.79,398.81Z" fill="#ff00ff"/>
<path d="M283.00,406.65L285.75,401.90L280.25,401.90Z" fill="#ff00ff"/>
<path d="M286.46,409.82L289.21,405.07L283.71,405.07Z" fill="#ff00ff"/>
<path d="M289.92,412.80L292.67,408.05L287.17,408.05Z" fill="#ff00ff"/>
<path d="M293.39,416.33L296.14,411.58L290.64,411.58Z" fill="#ff00ff"/>
<path d="M296.85,421.31L299.60,416.56L294.10,416.56Z" fill="#ff00ff"/>
<rect x="68.8" y="251.9" width="269.7" height="197.9" fill="none" stroke="#666666" stroke-width="1.6"/>
<line x1="89.10" y1="449.8" x2="89.10" y2="445.3" stroke="#666666" stroke-width="1.1"/>
<line x1="130.65" y1="449.8" x2="130.65" y2="445.3" stroke="#666666" stroke-width="1.1"/>
<line x1="172.20" y1="449.8" x2="172.20" y2="445.3" stroke="#666666" stroke-width="1.1"/>
<line x1="213.75" y1="449.8" x2="213.75" y2="445.3" stroke="#666666" stroke-width="1.1"/>
<line x1="255.30" y1="449.8" x2="255.30" y2="445.3" stroke="#666666" stroke-width="1.1"/>
<line x1="296.85" y1="449.8" x2="296.85" y2="445.3" stroke="#666666" stroke-width="1.1"/>
<line x1="338.40" y1="449.8" x2="338.40" y2="445.3" stroke="#666666" stroke-width="1.1"/>
<line x1="109.88" y1="449.8" x2="109.88" y2="447.8" stroke="#666666" stroke-width="1.1"/>
<line x1="151.42" y1="449.8" x2="151.42" y2="447.8" stroke="#666666" stroke-width="1.1"/>
<line x1="192.97" y1="449.8" x2="192.97" y2="447.8" stroke="#666666" stroke-width="1.1"/>
<line x1="234.52" y1="449.8" x2="234.52" y2="447.8" stroke="#666666" stroke-width="1.1"/>
<line x1="276.07" y1="449.8" x2="276.07" y2="447.8" stroke="#666666" stroke-width="1.1"/>
<line x1="317.62" y1="449.8" x2="317.62" y2="447.8" stroke="#666666" stroke-width="1.1"/>
<line x1="68.8" y1="436.80" x2="73.3" y2="436.80" stroke="#666666" stroke-width="1.1"/>
<line x1="68.8" y1="410.37" x2="73.3" y2="410.37" stroke="#666666" stroke-width="1.1"/>
<line x1="68.8" y1="383.94" x2="73.3" y2="383.94" stroke="#666666" stroke-width="1.1"/>
<line x1="68.8" y1="357.51" x2="73.3" y2="357.51" stroke="#666666" stroke-width="1.1"/>
<line x1="68.8" y1="331.08" x2="73.3" y2="331.08" stroke="#666666" stroke-width="1.1"/>
<line x1="68.8" y1="304.65" x2="73.3" y2="304.65" stroke="#666666" stroke-width="1.1"/>
<line x1="68.8" y1="278.22" x2="73.3" y2="278.22" stroke="#666666" stroke-width="1.1"/>
<line x1="68.8" y1="251.79" x2="73.3" y2="251.79" stroke="#666666" stroke-width="1.1"/>
<line x1="68.8" y1="423.59" x2="70.8" y2="423.59" stroke="#666666" stroke-width="1.1"/>
<line x1="68.8" y1="397.16" x2="70.8" y2="397.16" stroke="#666666" stroke-width="1.1"/>
<line x1="68.8" y1="370.73" x2="70.8" y2="370.73" stroke="#666666" stroke-width="1.1"/>
<line x1="68.8" y1="344.30" x2="70.8" y2="344.30" stroke="#666666" stroke-width="1.1"/>
<line x1="68.8" y1="317.87" x2="70.8" y2="317.87" stroke="#666666" stroke-width="1.1"/>
<line x1="68.8" y1="291.44" x2="70.8" y2="291.44" stroke="#666666" stroke-width="1.1"/>
<line x1="68.8" y1="265.00" x2="70.8" y2="265.00" stroke="#666666" stroke-width="1.1"/>
<text x="85.90" y="463.60" font-size="11.5" stroke="#454545" stroke-width="0.3">0</text>
<path d="M131.74,463.60H130.73V457.42Q130.36,457.76 129.77,458.07Q129.17,458.38 128.70,458.55V457.65Q129.54,457.25 130.17,456.72Q130.80,456.19 131.06,455.69H131.74Z" stroke="#454545" stroke-width="0.3"/>
<text x="169.00" y="463.60" font-size="11.5" stroke="#454545" stroke-width="0.3">2</text>
<text x="210.55" y="463.60" font-size="11.5" stroke="#454545" stroke-width="0.3">3</text>
<text x="252.10" y="463.60" font-size="11.5" stroke="#454545" stroke-width="0.3">4</text>
<text x="293.65" y="463.60" font-size="11.5" stroke="#454545" stroke-width="0.3">5</text>
<text x="335.20" y="463.60" font-size="11.5" stroke="#454545" stroke-width="0.3">6</text>
<text x="57.90" y="440.10" font-size="11.5" stroke="#454545" stroke-width="0.3">0</text>
<path d="M55.79,413.67H54.78V407.49Q54.42,407.83 53.82,408.14Q53.23,408.45 52.76,408.62V407.72Q53.60,407.32 54.23,406.79Q54.86,406.26 55.12,405.76H55.79Z" stroke="#454545" stroke-width="0.3"/><text x="57.90" y="413.67" font-size="11.5" stroke="#454545" stroke-width="0.3">0</text>
<text x="51.51" y="387.24" font-size="11.5" stroke="#454545" stroke-width="0.3">20</text>
<text x="51.51" y="360.81" font-size="11.5" stroke="#454545" stroke-width="0.3">30</text>
<text x="51.51" y="334.38" font-size="11.5" stroke="#454545" stroke-width="0.3">40</text>
<text x="51.51" y="307.95" font-size="11.5" stroke="#454545" stroke-width="0.3">50</text>
<text x="51.51" y="281.52" font-size="11.5" stroke="#454545" stroke-width="0.3">60</text>
<text x="51.51" y="255.09" font-size="11.5" stroke="#454545" stroke-width="0.3">70</text>
<rect x="240.5" y="262.8" width="91.5" height="59.099999999999966" fill="#000"/>
<rect x="237.5" y="259.8" width="91.5" height="59.099999999999966" fill="#fff" stroke="#999" stroke-width="0.8"/>
<line x1="244" y1="269.9" x2="270" y2="269.9" stroke="#000000" stroke-width="1.2" opacity="0.85"/>
<rect x="255.30" y="268.20" width="3.40" height="3.40" fill="#000000"/>
<text x="273.2" y="273.40" font-size="11.4" fill="#333" stroke="#333" stroke-width="0.25">BM-25</text>
<circle cx="308.97" cy="268.20" r="1.25" fill="none" stroke="#999" stroke-width="0.9"/>
<text x="310.37" y="273.40" font-family="Liberation Serif, serif" font-size="11.17" fill="#444">C</text>
<line x1="244" y1="283.9" x2="270" y2="283.9" stroke="#ff0000" stroke-width="1.2" opacity="0.85"/>
<circle cx="257.00" cy="283.90" r="1.95" fill="#ff0000"/>
<text x="273.2" y="287.40" font-size="11.4" fill="#333" stroke="#333" stroke-width="0.25">Joint-25</text>
<circle cx="315.95" cy="282.20" r="1.25" fill="none" stroke="#999" stroke-width="0.9"/>
<text x="317.35" y="287.40" font-family="Liberation Serif, serif" font-size="11.17" fill="#444">C</text>
<line x1="244" y1="298" x2="270" y2="298" stroke="#0000ff" stroke-width="1.2" opacity="0.85"/>
<path d="M257.00,295.66L259.34,299.70L254.66,299.70Z" fill="#0000ff"/>
<text x="273.2" y="301.50" font-size="11.4" fill="#333" stroke="#333" stroke-width="0.25">BM-50</text>
<circle cx="308.97" cy="296.30" r="1.25" fill="none" stroke="#999" stroke-width="0.9"/>
<text x="310.37" y="301.50" font-family="Liberation Serif, serif" font-size="11.17" fill="#444">C</text>
<line x1="244" y1="311.9" x2="270" y2="311.9" stroke="#ff00ff" stroke-width="1.2" opacity="0.85"/>
<path d="M257.00,314.24L259.34,310.20L254.66,310.20Z" fill="#ff00ff"/>
<text x="273.2" y="315.40" font-size="11.4" fill="#333" stroke="#333" stroke-width="0.25">Joint-50</text>
<circle cx="315.95" cy="310.20" r="1.25" fill="none" stroke="#999" stroke-width="0.9"/>
<text x="317.35" y="315.40" font-family="Liberation Serif, serif" font-size="11.17" fill="#444">C</text>
<text x="4.6" y="267.5" font-family="Liberation Serif, serif" font-size="26" fill="#1e1e1e" stroke="#1e1e1e" stroke-width="0.3">(c)</text>
<text x="203.8" y="485" text-anchor="middle" font-size="14.2" fill="#333" stroke="#333" stroke-width="0.3">Log<tspan font-style="italic">f</tspan> (Hz)</text>
<text transform="translate(42.4,360) rotate(-90)" text-anchor="middle" font-size="14.6" fill="#333" stroke="#333" stroke-width="0.3">Phase (&#176;)</text>
<text x="350" y="267.1" font-family="Liberation Serif, serif" font-size="26" fill="#1e1e1e" stroke="#1e1e1e" stroke-width="0.3">(d)</text>
<g stroke="#444444" stroke-width="1.9" fill="none">
<line x1="372.8" y1="370.6" x2="410" y2="370.6"/>
<line x1="452" y1="370.6" x2="492.7" y2="370.6"/>
<polyline points="492.7,370.6 492.7,331.9 568.9,331.9"/>
<polyline points="576.4,331.9 643.7,331.9 643.7,409.7 592,409.7"/>
<polyline points="492.7,370.6 492.7,409.7 550,409.7"/>
<line x1="643.7" y1="370.6" x2="684" y2="370.6"/>
</g>
<path d="M414.2,357.75 L451.8,357.75 L451.8,382.25 L414.2,382.25 A4,12.25 0 0 1 414.2,357.75 Z" fill="#fce397"/>
<ellipse cx="451.8" cy="370.0" rx="4" ry="12.25" fill="#d2a21e"/>
<ellipse cx="451.0" cy="370.0" rx="2.4" ry="11.25" fill="#c39012"/>
<path d="M554.0,396.5 L591.7,396.5 L591.7,421.5 L554.0,421.5 A4,12.5 0 0 1 554.0,396.5 Z" fill="#fce397"/>
<ellipse cx="591.7" cy="409.0" rx="4" ry="12.5" fill="#d2a21e"/>
<ellipse cx="590.9000000000001" cy="409.0" rx="2.4" ry="11.5" fill="#c39012"/>
<line x1="451" y1="370.6" x2="456" y2="370.6" stroke="#444444" stroke-width="1.9"/>
<line x1="591" y1="409.7" x2="596" y2="409.7" stroke="#444444" stroke-width="1.9"/>
<g stroke="#2020e0" stroke-width="2.1"><line x1="568.9" y1="318.4" x2="568.9" y2="343.3"/><line x1="576.4" y1="318.4" x2="576.4" y2="343.3"/></g>
<circle cx="492.8" cy="370.7" r="3.0" fill="#0a0ae0"/><circle cx="643.8" cy="370.6" r="3.0" fill="#0a0ae0"/>
<text x="550.6" y="311.6" font-size="17.2" fill="#2a2a2a" textLength="36" lengthAdjust="spacingAndGlyphs">CPE</text><text x="587.6" y="315.6" font-size="11" fill="#2a2a2a">f</text>
<text x="423.2" y="402.3" font-size="17.5" fill="#2a2a2a">R<tspan font-size="12.5" dy="4">S</tspan></text>
<text x="563.3" y="440" font-size="16.5" fill="#2a2a2a">R<tspan font-size="11.5" dy="4">f</tspan></text>
</svg>
</body></html>
